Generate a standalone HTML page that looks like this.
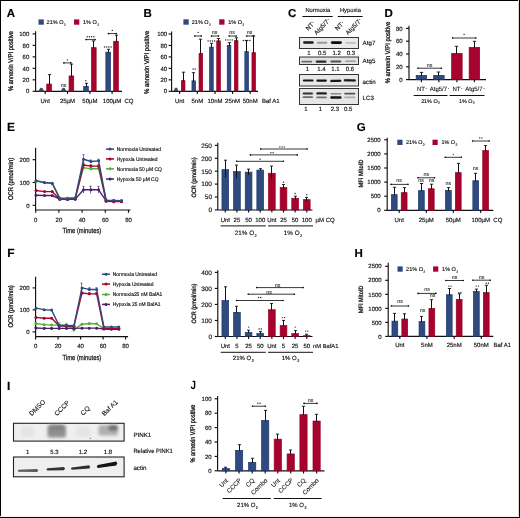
<!DOCTYPE html>
<html><head><meta charset="utf-8"><style>
html,body{margin:0;padding:0;background:#fff;}
svg{display:block;will-change:transform;text-rendering:geometricPrecision;font-family:"Liberation Sans", sans-serif;}
</style></head><body>
<svg width="520" height="518" viewBox="0 0 520 518">
<defs>
<filter id="bl" x="-30%" y="-100%" width="160%" height="300%"><feGaussianBlur stdDeviation="0.7"/></filter>
<filter id="bl2" x="-50%" y="-100%" width="200%" height="300%"><feGaussianBlur stdDeviation="1.6"/></filter>
</defs>
<rect x="0" y="0" width="520" height="518" fill="#fff"/>
<text x="6.80" y="17.00" font-size="11.5" text-anchor="start" font-weight="bold" fill="#000" stroke="#000" stroke-width="0.15">A</text>
<rect x="38.50" y="19.40" width="5.30" height="5.30" fill="#2f4a7e"/>
<text x="46.60" y="24.30" font-size="5.5" text-anchor="start" fill="#111" stroke="#111" stroke-width="0.15">21% O<tspan font-size="0.62em" dx="0.12em" dy="0.42em">2</tspan></text>
<rect x="74.00" y="19.40" width="5.30" height="5.30" fill="#a6032e"/>
<text x="83.00" y="24.30" font-size="5.5" text-anchor="start" fill="#111" stroke="#111" stroke-width="0.15">1% O<tspan font-size="0.62em" dx="0.12em" dy="0.42em">2</tspan></text>
<line x1="35.60" y1="31.20" x2="35.60" y2="91.40" stroke="#111" stroke-width="1.15"/>
<line x1="32.60" y1="91.30" x2="35.60" y2="91.30" stroke="#111" stroke-width="1.15"/>
<text x="29.30" y="93.46" font-size="6" text-anchor="end" fill="#111" stroke="#111" stroke-width="0.15">0</text>
<line x1="32.60" y1="79.82" x2="35.60" y2="79.82" stroke="#111" stroke-width="1.15"/>
<text x="29.30" y="81.98" font-size="6" text-anchor="end" fill="#111" stroke="#111" stroke-width="0.15">20</text>
<line x1="32.60" y1="68.34" x2="35.60" y2="68.34" stroke="#111" stroke-width="1.15"/>
<text x="29.30" y="70.50" font-size="6" text-anchor="end" fill="#111" stroke="#111" stroke-width="0.15">40</text>
<line x1="32.60" y1="56.86" x2="35.60" y2="56.86" stroke="#111" stroke-width="1.15"/>
<text x="29.30" y="59.02" font-size="6" text-anchor="end" fill="#111" stroke="#111" stroke-width="0.15">60</text>
<line x1="32.60" y1="45.38" x2="35.60" y2="45.38" stroke="#111" stroke-width="1.15"/>
<text x="29.30" y="47.54" font-size="6" text-anchor="end" fill="#111" stroke="#111" stroke-width="0.15">80</text>
<line x1="32.60" y1="33.90" x2="35.60" y2="33.90" stroke="#111" stroke-width="1.15"/>
<text x="29.30" y="36.06" font-size="6" text-anchor="end" fill="#111" stroke="#111" stroke-width="0.15">100</text>
<line x1="35.60" y1="91.40" x2="122.00" y2="91.40" stroke="#111" stroke-width="1.15"/>
<text x="0" y="0" font-size="6.8" text-anchor="middle" fill="#111" stroke="#111" stroke-width="0.3" transform="translate(13.30 61.00) rotate(-90) scale(0.840 1)">% annexin V/PI positive</text>
<path d="M38.60,91.40 C38.90,87.40 43.70,87.40 44.00,91.40 Z" fill="#2f4a7e"/>
<line x1="39.90" y1="88.40" x2="42.70" y2="88.40" stroke="#222" stroke-width="0.8"/>
<rect x="46.75" y="84.05" width="4.70" height="7.35" fill="#a6032e" stroke="#96001f" stroke-width="0.7"/>
<line x1="49.50" y1="74.60" x2="49.50" y2="84.70" stroke="#111" stroke-width="1.0"/>
<line x1="47.90" y1="74.60" x2="51.10" y2="74.60" stroke="#111" stroke-width="0.9"/>
<line x1="45.20" y1="91.40" x2="45.20" y2="94.00" stroke="#111" stroke-width="1.15"/>
<text x="45.20" y="102.80" font-size="6" text-anchor="middle" fill="#111" stroke="#111" stroke-width="0.15">Unt</text>
<path d="M60.90,91.40 C61.20,87.40 66.00,87.40 66.30,91.40 Z" fill="#2f4a7e"/>
<line x1="62.20" y1="88.40" x2="65.00" y2="88.40" stroke="#222" stroke-width="0.8"/>
<rect x="69.05" y="75.95" width="4.70" height="15.45" fill="#a6032e" stroke="#96001f" stroke-width="0.7"/>
<line x1="71.50" y1="64.10" x2="71.50" y2="76.60" stroke="#111" stroke-width="1.0"/>
<line x1="69.90" y1="64.10" x2="73.10" y2="64.10" stroke="#111" stroke-width="0.9"/>
<line x1="67.50" y1="91.40" x2="67.50" y2="94.00" stroke="#111" stroke-width="1.15"/>
<text x="67.50" y="102.80" font-size="6" text-anchor="middle" fill="#111" stroke="#111" stroke-width="0.15">25µM</text>
<rect x="83.65" y="86.45" width="4.70" height="4.95" fill="#2f4a7e" stroke="#1c376e" stroke-width="0.7"/>
<line x1="86.50" y1="83.30" x2="86.50" y2="87.10" stroke="#111" stroke-width="1.0"/>
<line x1="84.90" y1="83.30" x2="88.10" y2="83.30" stroke="#111" stroke-width="0.9"/>
<rect x="91.45" y="47.65" width="4.70" height="43.75" fill="#a6032e" stroke="#96001f" stroke-width="0.7"/>
<line x1="93.50" y1="40.90" x2="93.50" y2="48.30" stroke="#111" stroke-width="1.0"/>
<line x1="91.90" y1="40.90" x2="95.10" y2="40.90" stroke="#111" stroke-width="0.9"/>
<line x1="89.90" y1="91.40" x2="89.90" y2="94.00" stroke="#111" stroke-width="1.15"/>
<text x="89.90" y="102.80" font-size="6" text-anchor="middle" fill="#111" stroke="#111" stroke-width="0.15">50µM</text>
<rect x="105.85" y="52.15" width="4.70" height="39.25" fill="#2f4a7e" stroke="#1c376e" stroke-width="0.7"/>
<line x1="108.50" y1="49.30" x2="108.50" y2="52.80" stroke="#111" stroke-width="1.0"/>
<line x1="106.90" y1="49.30" x2="110.10" y2="49.30" stroke="#111" stroke-width="0.9"/>
<rect x="113.65" y="41.25" width="4.70" height="50.15" fill="#a6032e" stroke="#96001f" stroke-width="0.7"/>
<line x1="116.50" y1="35.20" x2="116.50" y2="41.90" stroke="#111" stroke-width="1.0"/>
<line x1="114.90" y1="35.20" x2="118.10" y2="35.20" stroke="#111" stroke-width="0.9"/>
<line x1="112.10" y1="91.40" x2="112.10" y2="94.00" stroke="#111" stroke-width="1.15"/>
<text x="112.10" y="102.80" font-size="6" text-anchor="middle" fill="#111" stroke="#111" stroke-width="0.15">100µM</text>
<text x="124.40" y="102.80" font-size="6" text-anchor="start" fill="#111" stroke="#111" stroke-width="0.15">CQ</text>
<text x="63.60" y="87.42" font-size="5.4" text-anchor="middle" fill="#111" stroke="#111" stroke-width="0.05">ns</text>
<circle cx="85.80" cy="80.80" r="0.72" fill="#2a2a2a"/>
<circle cx="104.50" cy="47.00" r="0.72" fill="#2a2a2a"/>
<circle cx="106.70" cy="47.00" r="0.72" fill="#2a2a2a"/>
<circle cx="108.90" cy="47.00" r="0.72" fill="#2a2a2a"/>
<circle cx="111.10" cy="47.00" r="0.72" fill="#2a2a2a"/>
<line x1="63.30" y1="62.90" x2="71.40" y2="62.90" stroke="#222" stroke-width="0.9"/>
<circle cx="63.90" cy="62.90" r="0.8" fill="#111"/>
<circle cx="70.80" cy="62.90" r="0.8" fill="#111"/>
<circle cx="67.40" cy="59.90" r="0.72" fill="#2a2a2a"/>
<line x1="85.50" y1="39.60" x2="95.60" y2="39.60" stroke="#222" stroke-width="0.9"/>
<circle cx="86.10" cy="39.60" r="0.8" fill="#111"/>
<circle cx="95.00" cy="39.60" r="0.8" fill="#111"/>
<circle cx="87.20" cy="36.70" r="0.72" fill="#2a2a2a"/>
<circle cx="89.40" cy="36.70" r="0.72" fill="#2a2a2a"/>
<circle cx="91.60" cy="36.70" r="0.72" fill="#2a2a2a"/>
<circle cx="93.80" cy="36.70" r="0.72" fill="#2a2a2a"/>
<line x1="107.80" y1="33.60" x2="116.90" y2="33.60" stroke="#222" stroke-width="0.9"/>
<circle cx="108.40" cy="33.60" r="0.8" fill="#111"/>
<circle cx="116.30" cy="33.60" r="0.8" fill="#111"/>
<circle cx="112.30" cy="30.40" r="0.72" fill="#2a2a2a"/>
<text x="143.40" y="16.60" font-size="11.5" text-anchor="start" font-weight="bold" fill="#000" stroke="#000" stroke-width="0.15">B</text>
<rect x="183.40" y="19.30" width="5.30" height="5.40" fill="#2f4a7e"/>
<text x="191.80" y="24.30" font-size="5.5" text-anchor="start" fill="#111" stroke="#111" stroke-width="0.15">21% O<tspan font-size="0.62em" dx="0.12em" dy="0.42em">2</tspan></text>
<rect x="219.20" y="19.30" width="5.30" height="5.40" fill="#a6032e"/>
<text x="228.20" y="24.30" font-size="5.5" text-anchor="start" fill="#111" stroke="#111" stroke-width="0.15">1% O<tspan font-size="0.62em" dx="0.12em" dy="0.42em">2</tspan></text>
<line x1="171.60" y1="31.40" x2="171.60" y2="91.40" stroke="#111" stroke-width="1.15"/>
<line x1="168.60" y1="91.30" x2="171.60" y2="91.30" stroke="#111" stroke-width="1.15"/>
<text x="167.20" y="93.46" font-size="6" text-anchor="end" fill="#111" stroke="#111" stroke-width="0.15">0</text>
<line x1="168.60" y1="79.84" x2="171.60" y2="79.84" stroke="#111" stroke-width="1.15"/>
<text x="167.20" y="82.00" font-size="6" text-anchor="end" fill="#111" stroke="#111" stroke-width="0.15">20</text>
<line x1="168.60" y1="68.38" x2="171.60" y2="68.38" stroke="#111" stroke-width="1.15"/>
<text x="167.20" y="70.54" font-size="6" text-anchor="end" fill="#111" stroke="#111" stroke-width="0.15">40</text>
<line x1="168.60" y1="56.92" x2="171.60" y2="56.92" stroke="#111" stroke-width="1.15"/>
<text x="167.20" y="59.08" font-size="6" text-anchor="end" fill="#111" stroke="#111" stroke-width="0.15">60</text>
<line x1="168.60" y1="45.46" x2="171.60" y2="45.46" stroke="#111" stroke-width="1.15"/>
<text x="167.20" y="47.62" font-size="6" text-anchor="end" fill="#111" stroke="#111" stroke-width="0.15">80</text>
<line x1="168.60" y1="34.00" x2="171.60" y2="34.00" stroke="#111" stroke-width="1.15"/>
<text x="167.20" y="36.16" font-size="6" text-anchor="end" fill="#111" stroke="#111" stroke-width="0.15">100</text>
<line x1="171.60" y1="91.30" x2="258.00" y2="91.30" stroke="#111" stroke-width="1.15"/>
<text x="0" y="0" font-size="6.8" text-anchor="middle" fill="#111" stroke="#111" stroke-width="0.3" transform="translate(149.40 62.40) rotate(-90) scale(0.886 1)">% annexin V/PI positive</text>
<path d="M173.90,91.30 C174.20,87.30 177.90,87.30 178.20,91.30 Z" fill="#2f4a7e"/>
<line x1="174.65" y1="88.30" x2="177.45" y2="88.30" stroke="#222" stroke-width="0.8"/>
<rect x="181.35" y="80.65" width="3.60" height="10.65" fill="#a6032e" stroke="#96001f" stroke-width="0.7"/>
<line x1="183.50" y1="72.20" x2="183.50" y2="81.30" stroke="#111" stroke-width="1.0"/>
<line x1="181.90" y1="72.20" x2="185.10" y2="72.20" stroke="#111" stroke-width="0.9"/>
<line x1="179.60" y1="91.30" x2="179.60" y2="94.00" stroke="#111" stroke-width="1.15"/>
<text x="179.60" y="102.70" font-size="6" text-anchor="middle" fill="#111" stroke="#111" stroke-width="0.15">Unt</text>
<rect x="191.95" y="80.85" width="3.60" height="10.45" fill="#2f4a7e" stroke="#1c376e" stroke-width="0.7"/>
<line x1="193.50" y1="72.70" x2="193.50" y2="81.50" stroke="#111" stroke-width="1.0"/>
<line x1="191.90" y1="72.70" x2="195.10" y2="72.70" stroke="#111" stroke-width="0.9"/>
<rect x="199.05" y="53.45" width="3.60" height="37.85" fill="#a6032e" stroke="#96001f" stroke-width="0.7"/>
<line x1="200.50" y1="39.20" x2="200.50" y2="54.10" stroke="#111" stroke-width="1.0"/>
<line x1="198.90" y1="39.20" x2="202.10" y2="39.20" stroke="#111" stroke-width="0.9"/>
<line x1="197.30" y1="91.30" x2="197.30" y2="94.00" stroke="#111" stroke-width="1.15"/>
<text x="197.30" y="102.70" font-size="6" text-anchor="middle" fill="#111" stroke="#111" stroke-width="0.15">5nM</text>
<rect x="209.65" y="47.15" width="3.60" height="44.15" fill="#2f4a7e" stroke="#1c376e" stroke-width="0.7"/>
<line x1="211.50" y1="43.30" x2="211.50" y2="47.80" stroke="#111" stroke-width="1.0"/>
<line x1="209.90" y1="43.30" x2="213.10" y2="43.30" stroke="#111" stroke-width="0.9"/>
<rect x="216.75" y="40.85" width="3.60" height="50.45" fill="#a6032e" stroke="#96001f" stroke-width="0.7"/>
<line x1="218.50" y1="38.50" x2="218.50" y2="41.50" stroke="#111" stroke-width="1.0"/>
<line x1="216.90" y1="38.50" x2="220.10" y2="38.50" stroke="#111" stroke-width="0.9"/>
<line x1="215.00" y1="91.30" x2="215.00" y2="94.00" stroke="#111" stroke-width="1.15"/>
<text x="215.00" y="102.70" font-size="6" text-anchor="middle" fill="#111" stroke="#111" stroke-width="0.15">10nM</text>
<rect x="227.25" y="45.35" width="3.60" height="45.95" fill="#2f4a7e" stroke="#1c376e" stroke-width="0.7"/>
<line x1="229.50" y1="42.60" x2="229.50" y2="46.00" stroke="#111" stroke-width="1.0"/>
<line x1="227.90" y1="42.60" x2="231.10" y2="42.60" stroke="#111" stroke-width="0.9"/>
<rect x="234.35" y="40.65" width="3.60" height="50.65" fill="#a6032e" stroke="#96001f" stroke-width="0.7"/>
<line x1="236.50" y1="37.80" x2="236.50" y2="41.30" stroke="#111" stroke-width="1.0"/>
<line x1="234.90" y1="37.80" x2="238.10" y2="37.80" stroke="#111" stroke-width="0.9"/>
<line x1="232.60" y1="91.30" x2="232.60" y2="94.00" stroke="#111" stroke-width="1.15"/>
<text x="232.60" y="102.70" font-size="6" text-anchor="middle" fill="#111" stroke="#111" stroke-width="0.15">25nM</text>
<rect x="244.85" y="51.65" width="3.60" height="39.65" fill="#2f4a7e" stroke="#1c376e" stroke-width="0.7"/>
<line x1="246.50" y1="40.50" x2="246.50" y2="52.30" stroke="#111" stroke-width="1.0"/>
<line x1="244.90" y1="40.50" x2="248.10" y2="40.50" stroke="#111" stroke-width="0.9"/>
<rect x="251.95" y="52.65" width="3.60" height="38.65" fill="#a6032e" stroke="#96001f" stroke-width="0.7"/>
<line x1="253.50" y1="36.00" x2="253.50" y2="53.30" stroke="#111" stroke-width="1.0"/>
<line x1="251.90" y1="36.00" x2="255.10" y2="36.00" stroke="#111" stroke-width="0.9"/>
<line x1="250.20" y1="91.30" x2="250.20" y2="94.00" stroke="#111" stroke-width="1.15"/>
<text x="250.20" y="102.70" font-size="6" text-anchor="middle" fill="#111" stroke="#111" stroke-width="0.15">50nM</text>
<text x="262.00" y="102.70" font-size="6" text-anchor="start" fill="#111" stroke="#111" stroke-width="0.15">Baf A1</text>
<circle cx="193.10" cy="69.00" r="0.72" fill="#2a2a2a"/>
<circle cx="195.30" cy="69.00" r="0.72" fill="#2a2a2a"/>
<circle cx="208.10" cy="41.00" r="0.72" fill="#2a2a2a"/>
<circle cx="210.30" cy="41.00" r="0.72" fill="#2a2a2a"/>
<circle cx="212.50" cy="41.00" r="0.72" fill="#2a2a2a"/>
<circle cx="214.70" cy="41.00" r="0.72" fill="#2a2a2a"/>
<circle cx="225.70" cy="39.90" r="0.72" fill="#2a2a2a"/>
<circle cx="227.90" cy="39.90" r="0.72" fill="#2a2a2a"/>
<circle cx="230.10" cy="39.90" r="0.72" fill="#2a2a2a"/>
<circle cx="232.30" cy="39.90" r="0.72" fill="#2a2a2a"/>
<circle cx="243.30" cy="40.50" r="0.72" fill="#2a2a2a"/>
<circle cx="245.50" cy="40.50" r="0.72" fill="#2a2a2a"/>
<circle cx="247.70" cy="40.50" r="0.72" fill="#2a2a2a"/>
<circle cx="249.90" cy="40.50" r="0.72" fill="#2a2a2a"/>
<line x1="194.20" y1="36.00" x2="201.90" y2="36.00" stroke="#222" stroke-width="0.9"/>
<circle cx="194.80" cy="36.00" r="0.8" fill="#111"/>
<circle cx="201.30" cy="36.00" r="0.8" fill="#111"/>
<circle cx="198.20" cy="32.40" r="0.72" fill="#2a2a2a"/>
<line x1="210.90" y1="36.00" x2="219.10" y2="36.00" stroke="#222" stroke-width="0.9"/>
<circle cx="211.50" cy="36.00" r="0.8" fill="#111"/>
<circle cx="218.50" cy="36.00" r="0.8" fill="#111"/>
<text x="214.50" y="34.22" font-size="5.4" text-anchor="middle" fill="#111" stroke="#111" stroke-width="0.05">ns</text>
<line x1="228.50" y1="36.00" x2="236.70" y2="36.00" stroke="#222" stroke-width="0.9"/>
<circle cx="229.10" cy="36.00" r="0.8" fill="#111"/>
<circle cx="236.10" cy="36.00" r="0.8" fill="#111"/>
<text x="232.10" y="34.22" font-size="5.4" text-anchor="middle" fill="#111" stroke="#111" stroke-width="0.05">ns</text>
<line x1="246.10" y1="36.00" x2="254.30" y2="36.00" stroke="#222" stroke-width="0.9"/>
<circle cx="246.70" cy="36.00" r="0.8" fill="#111"/>
<circle cx="253.70" cy="36.00" r="0.8" fill="#111"/>
<text x="249.70" y="34.22" font-size="5.4" text-anchor="middle" fill="#111" stroke="#111" stroke-width="0.05">ns</text>
<text x="287.90" y="17.30" font-size="11.5" text-anchor="start" font-weight="bold" fill="#000" stroke="#000" stroke-width="0.15">C</text>
<text x="317.80" y="12.20" font-size="5.8" text-anchor="middle" fill="#111" stroke="#111" stroke-width="0.15">Normoxia</text>
<line x1="302.40" y1="16.50" x2="332.70" y2="16.50" stroke="#111" stroke-width="1.0"/>
<text x="350.40" y="12.20" font-size="5.8" text-anchor="middle" fill="#111" stroke="#111" stroke-width="0.15">Hypoxia</text>
<line x1="337.80" y1="16.50" x2="362.70" y2="16.50" stroke="#111" stroke-width="1.0"/>
<text x="0" y="0" font-size="6.3" text-anchor="middle" fill="#111" stroke="#111" stroke-width="0.12" transform="translate(311.90 27.40) rotate(-45)">NT<tspan font-size="0.75em" dx="0.1em" dy="-0.35em">-</tspan></text>
<text x="0" y="0" font-size="6.3" text-anchor="middle" fill="#111" stroke="#111" stroke-width="0.12" transform="translate(323.60 28.00) rotate(-45)">Atg5/7<tspan font-size="0.75em" dx="0.1em" dy="-0.35em">-</tspan></text>
<text x="0" y="0" font-size="6.3" text-anchor="middle" fill="#111" stroke="#111" stroke-width="0.12" transform="translate(341.30 27.40) rotate(-45)">NT<tspan font-size="0.75em" dx="0.1em" dy="-0.35em">-</tspan></text>
<text x="0" y="0" font-size="6.3" text-anchor="middle" fill="#111" stroke="#111" stroke-width="0.12" transform="translate(355.20 28.00) rotate(-45)">Atg5/7<tspan font-size="0.75em" dx="0.1em" dy="-0.35em">-</tspan></text>
<rect x="299.50" y="37.50" width="59.00" height="11.00" fill="#e9e9e9" stroke="#333" stroke-width="1.0"/>
<rect x="303.10" y="41.35" width="10.60" height="2.50" rx="1.25" fill="#1e1e1e" opacity="1.0" filter="url(#bl)"/>
<rect x="316.90" y="41.80" width="10.40" height="2.00" rx="1.00" fill="#9a9a9a" opacity="1.0" filter="url(#bl)"/>
<rect x="330.80" y="41.15" width="11.20" height="2.90" rx="1.45" fill="#111" opacity="1.0" filter="url(#bl)"/>
<rect x="345.30" y="41.90" width="10.60" height="1.80" rx="0.90" fill="#bdbdbd" opacity="1.0" filter="url(#bl)"/>
<text x="308.80" y="54.90" font-size="6" text-anchor="middle" fill="#111" stroke="#111" stroke-width="0.15">1</text>
<text x="322.10" y="54.90" font-size="6" text-anchor="middle" fill="#111" stroke="#111" stroke-width="0.15">0.5</text>
<text x="336.60" y="54.90" font-size="6" text-anchor="middle" fill="#111" stroke="#111" stroke-width="0.15">1.2</text>
<text x="350.80" y="54.90" font-size="6" text-anchor="middle" fill="#111" stroke="#111" stroke-width="0.15">0.3</text>
<rect x="299.50" y="57.00" width="59.00" height="7.50" fill="#e2e2e2" stroke="#333" stroke-width="1.0"/>
<rect x="301.40" y="60.80" width="10.80" height="1.80" rx="0.90" fill="#6a6a6a" opacity="1.0" filter="url(#bl)"/>
<rect x="315.70" y="60.60" width="10.80" height="2.20" rx="1.10" fill="#2a2a2a" opacity="1.0" filter="url(#bl)"/>
<rect x="330.30" y="60.50" width="11.00" height="2.00" rx="1.00" fill="#505050" opacity="1.0" filter="url(#bl)"/>
<rect x="345.20" y="60.50" width="10.80" height="1.60" rx="0.80" fill="#9a9a9a" opacity="1.0" filter="url(#bl)"/>
<text x="307.40" y="71.30" font-size="6" text-anchor="middle" fill="#111" stroke="#111" stroke-width="0.15">1</text>
<text x="321.30" y="71.30" font-size="6" text-anchor="middle" fill="#111" stroke="#111" stroke-width="0.15">1.4</text>
<text x="335.50" y="71.30" font-size="6" text-anchor="middle" fill="#111" stroke="#111" stroke-width="0.15">1.1</text>
<text x="350.00" y="71.30" font-size="6" text-anchor="middle" fill="#111" stroke="#111" stroke-width="0.15">0.6</text>
<rect x="299.50" y="74.50" width="59.00" height="11.50" fill="#e8e8e8" stroke="#333" stroke-width="1.0"/>
<rect x="302.80" y="79.40" width="10.80" height="2.20" rx="1.10" fill="#151515" opacity="1.0" filter="url(#bl)"/>
<rect x="316.30" y="79.50" width="10.60" height="2.20" rx="1.10" fill="#151515" opacity="1.0" filter="url(#bl)"/>
<rect x="330.20" y="79.80" width="11.20" height="2.20" rx="1.10" fill="#151515" opacity="1.0" filter="url(#bl)" transform="rotate(-1.2 335.8 80.9)"/>
<rect x="343.70" y="79.25" width="12.20" height="2.30" rx="1.15" fill="#151515" opacity="1.0" filter="url(#bl)" transform="rotate(1.5 349.8 80.4)"/>
<rect x="299.50" y="88.50" width="59.00" height="16.00" fill="#e6e6e6" stroke="#333" stroke-width="1.0"/>
<rect x="302.60" y="92.60" width="10.40" height="2.00" rx="1.00" fill="#333" opacity="1.0" filter="url(#bl)"/>
<rect x="302.60" y="96.30" width="10.40" height="1.80" rx="0.90" fill="#6a6a6a" opacity="1.0" filter="url(#bl)"/>
<rect x="316.30" y="92.20" width="10.60" height="2.40" rx="1.20" fill="#222" opacity="1.0" filter="url(#bl)"/>
<rect x="316.30" y="96.50" width="10.60" height="1.80" rx="0.90" fill="#707070" opacity="1.0" filter="url(#bl)"/>
<rect x="330.50" y="93.00" width="10.80" height="1.60" rx="0.80" fill="#8a8a8a" opacity="1.0" filter="url(#bl)"/>
<rect x="330.20" y="96.20" width="11.40" height="2.60" rx="1.30" fill="#141414" opacity="1.0" filter="url(#bl)"/>
<rect x="344.20" y="92.70" width="11.20" height="1.80" rx="0.90" fill="#555" opacity="1.0" filter="url(#bl)"/>
<rect x="344.20" y="96.60" width="11.20" height="1.60" rx="0.80" fill="#aaaaaa" opacity="1.0" filter="url(#bl)"/>
<text x="306.00" y="110.90" font-size="6" text-anchor="middle" fill="#111" stroke="#111" stroke-width="0.15">1</text>
<text x="320.40" y="110.90" font-size="6" text-anchor="middle" fill="#111" stroke="#111" stroke-width="0.15">1</text>
<text x="334.80" y="110.90" font-size="6" text-anchor="middle" fill="#111" stroke="#111" stroke-width="0.15">2.3</text>
<text x="348.20" y="110.90" font-size="6" text-anchor="middle" fill="#111" stroke="#111" stroke-width="0.15">0.5</text>
<text x="362.60" y="44.90" font-size="6.2" text-anchor="start" fill="#111" stroke="#111" stroke-width="0.15">Atg7</text>
<text x="362.60" y="63.30" font-size="6.2" text-anchor="start" fill="#111" stroke="#111" stroke-width="0.15">Atg5</text>
<text x="362.60" y="84.20" font-size="6.2" text-anchor="start" fill="#111" stroke="#111" stroke-width="0.15">actin</text>
<text x="362.60" y="99.90" font-size="6.2" text-anchor="start" fill="#111" stroke="#111" stroke-width="0.15">LC3</text>
<text x="384.50" y="16.50" font-size="11.5" text-anchor="start" font-weight="bold" fill="#000" stroke="#000" stroke-width="0.15">D</text>
<text x="0" y="0" font-size="6.8" text-anchor="middle" fill="#111" stroke="#111" stroke-width="0.3" transform="translate(389.60 52.50) rotate(-90) scale(0.860 1)">% annexin V/PI positive</text>
<line x1="409.00" y1="25.70" x2="409.00" y2="79.60" stroke="#111" stroke-width="1.15"/>
<line x1="406.00" y1="79.60" x2="409.00" y2="79.60" stroke="#111" stroke-width="1.15"/>
<text x="402.60" y="81.76" font-size="6" text-anchor="end" fill="#111" stroke="#111" stroke-width="0.15">0</text>
<line x1="406.00" y1="66.80" x2="409.00" y2="66.80" stroke="#111" stroke-width="1.15"/>
<text x="402.60" y="68.96" font-size="6" text-anchor="end" fill="#111" stroke="#111" stroke-width="0.15">20</text>
<line x1="406.00" y1="54.00" x2="409.00" y2="54.00" stroke="#111" stroke-width="1.15"/>
<text x="402.60" y="56.16" font-size="6" text-anchor="end" fill="#111" stroke="#111" stroke-width="0.15">40</text>
<line x1="406.00" y1="41.20" x2="409.00" y2="41.20" stroke="#111" stroke-width="1.15"/>
<text x="402.60" y="43.36" font-size="6" text-anchor="end" fill="#111" stroke="#111" stroke-width="0.15">60</text>
<line x1="406.00" y1="28.40" x2="409.00" y2="28.40" stroke="#111" stroke-width="1.15"/>
<text x="402.60" y="30.56" font-size="6" text-anchor="end" fill="#111" stroke="#111" stroke-width="0.15">80</text>
<line x1="409.00" y1="79.60" x2="486.00" y2="79.60" stroke="#111" stroke-width="1.15"/>
<rect x="416.15" y="75.35" width="10.50" height="4.25" fill="#2f4a7e" stroke="#1c376e" stroke-width="0.7"/>
<line x1="421.50" y1="72.40" x2="421.50" y2="76.00" stroke="#111" stroke-width="1.0"/>
<line x1="419.80" y1="72.40" x2="423.20" y2="72.40" stroke="#111" stroke-width="0.9"/>
<line x1="421.40" y1="79.60" x2="421.40" y2="82.20" stroke="#111" stroke-width="1.15"/>
<text x="422.00" y="90.60" font-size="6" text-anchor="middle" fill="#111" stroke="#111" stroke-width="0.1">NT<tspan font-size="0.75em" dx="0.15em" dy="-0.2em">-</tspan></text>
<rect x="433.65" y="75.35" width="10.50" height="4.25" fill="#2f4a7e" stroke="#1c376e" stroke-width="0.7"/>
<line x1="438.50" y1="72.00" x2="438.50" y2="76.00" stroke="#111" stroke-width="1.0"/>
<line x1="436.80" y1="72.00" x2="440.20" y2="72.00" stroke="#111" stroke-width="0.9"/>
<line x1="438.90" y1="79.60" x2="438.90" y2="82.20" stroke="#111" stroke-width="1.15"/>
<text x="439.50" y="90.60" font-size="6" text-anchor="middle" fill="#111" stroke="#111" stroke-width="0.1">Atg5/7<tspan font-size="0.75em" dx="0.15em" dy="-0.2em">-</tspan></text>
<rect x="451.65" y="53.35" width="10.50" height="26.25" fill="#a6032e" stroke="#96001f" stroke-width="0.7"/>
<line x1="456.50" y1="46.30" x2="456.50" y2="54.00" stroke="#111" stroke-width="1.0"/>
<line x1="454.80" y1="46.30" x2="458.20" y2="46.30" stroke="#111" stroke-width="0.9"/>
<line x1="456.90" y1="79.60" x2="456.90" y2="82.20" stroke="#111" stroke-width="1.15"/>
<text x="457.50" y="90.60" font-size="6" text-anchor="middle" fill="#111" stroke="#111" stroke-width="0.1">NT<tspan font-size="0.75em" dx="0.15em" dy="-0.2em">-</tspan></text>
<rect x="469.15" y="47.35" width="10.50" height="32.25" fill="#a6032e" stroke="#96001f" stroke-width="0.7"/>
<line x1="474.50" y1="41.30" x2="474.50" y2="48.00" stroke="#111" stroke-width="1.0"/>
<line x1="472.80" y1="41.30" x2="476.20" y2="41.30" stroke="#111" stroke-width="0.9"/>
<line x1="474.40" y1="79.60" x2="474.40" y2="82.20" stroke="#111" stroke-width="1.15"/>
<text x="475.00" y="90.60" font-size="6" text-anchor="middle" fill="#111" stroke="#111" stroke-width="0.1">Atg5/7<tspan font-size="0.75em" dx="0.15em" dy="-0.2em">-</tspan></text>
<line x1="417.50" y1="68.20" x2="442.00" y2="68.20" stroke="#222" stroke-width="0.9"/>
<circle cx="418.10" cy="68.20" r="0.8" fill="#111"/>
<circle cx="441.40" cy="68.20" r="0.8" fill="#111"/>
<text x="429.70" y="67.02" font-size="5.4" text-anchor="middle" fill="#111" stroke="#111" stroke-width="0.05">ns</text>
<line x1="452.00" y1="38.00" x2="476.30" y2="38.00" stroke="#222" stroke-width="0.9"/>
<circle cx="452.60" cy="38.00" r="0.8" fill="#111"/>
<circle cx="475.70" cy="38.00" r="0.8" fill="#111"/>
<circle cx="464.10" cy="34.40" r="0.72" fill="#2a2a2a"/>
<line x1="413.70" y1="95.50" x2="447.50" y2="95.50" stroke="#111" stroke-width="1.0"/>
<line x1="449.50" y1="95.50" x2="484.50" y2="95.50" stroke="#111" stroke-width="1.0"/>
<text x="430.50" y="102.60" font-size="5.4" text-anchor="middle" fill="#111" stroke="#111" stroke-width="0.15">21% O<tspan font-size="0.62em" dx="0.12em" dy="0.42em">2</tspan></text>
<text x="466.80" y="102.60" font-size="5.4" text-anchor="middle" fill="#111" stroke="#111" stroke-width="0.15">1% O<tspan font-size="0.62em" dx="0.12em" dy="0.42em">2</tspan></text>
<text x="7.00" y="131.00" font-size="12" text-anchor="start" font-weight="bold" fill="#000" stroke="#000" stroke-width="0.15">E</text>
<line x1="35.60" y1="147.70" x2="35.60" y2="210.00" stroke="#111" stroke-width="1.15"/>
<line x1="32.60" y1="205.30" x2="35.60" y2="205.30" stroke="#111" stroke-width="1.15"/>
<text x="29.60" y="207.50" font-size="6" text-anchor="end" fill="#111" stroke="#111" stroke-width="0.15">0</text>
<line x1="32.60" y1="182.50" x2="35.60" y2="182.50" stroke="#111" stroke-width="1.15"/>
<text x="29.60" y="184.70" font-size="6" text-anchor="end" fill="#111" stroke="#111" stroke-width="0.15">100</text>
<line x1="32.60" y1="159.70" x2="35.60" y2="159.70" stroke="#111" stroke-width="1.15"/>
<text x="29.60" y="161.90" font-size="6" text-anchor="end" fill="#111" stroke="#111" stroke-width="0.15">200</text>
<line x1="35.60" y1="210.00" x2="130.50" y2="210.00" stroke="#111" stroke-width="1.15"/>
<line x1="35.70" y1="210.00" x2="35.70" y2="212.80" stroke="#111" stroke-width="1.15"/>
<text x="35.70" y="221.80" font-size="6" text-anchor="middle" fill="#111" stroke="#111" stroke-width="0.15">0</text>
<line x1="58.90" y1="210.00" x2="58.90" y2="212.80" stroke="#111" stroke-width="1.15"/>
<text x="58.90" y="221.80" font-size="6" text-anchor="middle" fill="#111" stroke="#111" stroke-width="0.15">20</text>
<line x1="82.10" y1="210.00" x2="82.10" y2="212.80" stroke="#111" stroke-width="1.15"/>
<text x="82.10" y="221.80" font-size="6" text-anchor="middle" fill="#111" stroke="#111" stroke-width="0.15">40</text>
<line x1="105.30" y1="210.00" x2="105.30" y2="212.80" stroke="#111" stroke-width="1.15"/>
<text x="105.30" y="221.80" font-size="6" text-anchor="middle" fill="#111" stroke="#111" stroke-width="0.15">60</text>
<line x1="128.50" y1="210.00" x2="128.50" y2="212.80" stroke="#111" stroke-width="1.15"/>
<text x="128.50" y="221.80" font-size="6" text-anchor="middle" fill="#111" stroke="#111" stroke-width="0.15">80</text>
<text x="0" y="0" font-size="7.3" text-anchor="middle" fill="#111" stroke="#111" stroke-width="0.25" transform="translate(81.90 232.90) scale(0.800 1)">Time (minutes)</text>
<text x="0" y="0" font-size="6.8" text-anchor="middle" fill="#111" stroke="#111" stroke-width="0.3" transform="translate(13.10 179.00) rotate(-90) scale(0.860 1)">OCR (pmol/min)</text>
<polyline points="36.06,181.13 44.54,182.73 52.21,183.41 59.89,198.00 67.55,198.00 75.23,197.55 83.52,167.68 90.99,168.82 98.66,168.59 106.14,200.51 113.80,200.74 121.48,200.97" fill="none" stroke="#5aae3a" stroke-width="1.4" stroke-linejoin="round"/>
<circle cx="36.06" cy="181.13" r="1.5" fill="#5aae3a"/>
<circle cx="44.54" cy="182.73" r="1.5" fill="#5aae3a"/>
<circle cx="52.21" cy="183.41" r="1.5" fill="#5aae3a"/>
<circle cx="59.89" cy="198.00" r="1.5" fill="#5aae3a"/>
<circle cx="67.55" cy="198.00" r="1.5" fill="#5aae3a"/>
<circle cx="75.23" cy="197.55" r="1.5" fill="#5aae3a"/>
<line x1="83.50" y1="165.86" x2="83.50" y2="169.50" stroke="#5aae3a" stroke-width="0.7"/>
<line x1="82.40" y1="165.86" x2="84.60" y2="165.86" stroke="#5aae3a" stroke-width="0.7"/>
<circle cx="83.52" cy="167.68" r="1.5" fill="#5aae3a"/>
<line x1="90.50" y1="167.68" x2="90.50" y2="169.96" stroke="#5aae3a" stroke-width="0.7"/>
<line x1="89.40" y1="167.68" x2="91.60" y2="167.68" stroke="#5aae3a" stroke-width="0.7"/>
<circle cx="90.99" cy="168.82" r="1.5" fill="#5aae3a"/>
<line x1="98.50" y1="167.45" x2="98.50" y2="169.73" stroke="#5aae3a" stroke-width="0.7"/>
<line x1="97.40" y1="167.45" x2="99.60" y2="167.45" stroke="#5aae3a" stroke-width="0.7"/>
<circle cx="98.66" cy="168.59" r="1.5" fill="#5aae3a"/>
<circle cx="106.14" cy="200.51" r="1.5" fill="#5aae3a"/>
<circle cx="113.80" cy="200.74" r="1.5" fill="#5aae3a"/>
<circle cx="121.48" cy="200.97" r="1.5" fill="#5aae3a"/>
<polyline points="36.06,195.27 44.54,195.50 52.21,195.50 59.89,199.14 67.55,199.60 75.23,199.14 83.52,189.80 90.99,189.80 98.66,189.80 106.14,200.97 113.80,201.42 121.48,201.42" fill="none" stroke="#4b1f6e" stroke-width="1.4" stroke-linejoin="round"/>
<circle cx="36.06" cy="195.27" r="1.5" fill="#4b1f6e"/>
<circle cx="44.54" cy="195.50" r="1.5" fill="#4b1f6e"/>
<circle cx="52.21" cy="195.50" r="1.5" fill="#4b1f6e"/>
<circle cx="59.89" cy="199.14" r="1.5" fill="#4b1f6e"/>
<circle cx="67.55" cy="199.60" r="1.5" fill="#4b1f6e"/>
<circle cx="75.23" cy="199.14" r="1.5" fill="#4b1f6e"/>
<line x1="83.50" y1="186.38" x2="83.50" y2="193.22" stroke="#4b1f6e" stroke-width="0.7"/>
<line x1="82.40" y1="186.38" x2="84.60" y2="186.38" stroke="#4b1f6e" stroke-width="0.7"/>
<circle cx="83.52" cy="189.80" r="1.5" fill="#4b1f6e"/>
<line x1="90.50" y1="186.15" x2="90.50" y2="193.44" stroke="#4b1f6e" stroke-width="0.7"/>
<line x1="89.40" y1="186.15" x2="91.60" y2="186.15" stroke="#4b1f6e" stroke-width="0.7"/>
<circle cx="90.99" cy="189.80" r="1.5" fill="#4b1f6e"/>
<line x1="98.50" y1="186.38" x2="98.50" y2="193.22" stroke="#4b1f6e" stroke-width="0.7"/>
<line x1="97.40" y1="186.38" x2="99.60" y2="186.38" stroke="#4b1f6e" stroke-width="0.7"/>
<circle cx="98.66" cy="189.80" r="1.5" fill="#4b1f6e"/>
<circle cx="106.14" cy="200.97" r="1.5" fill="#4b1f6e"/>
<line x1="113.50" y1="199.83" x2="113.50" y2="203.02" stroke="#4b1f6e" stroke-width="0.7"/>
<line x1="112.40" y1="199.83" x2="114.60" y2="199.83" stroke="#4b1f6e" stroke-width="0.7"/>
<circle cx="113.80" cy="201.42" r="1.5" fill="#4b1f6e"/>
<line x1="121.50" y1="199.83" x2="121.50" y2="203.02" stroke="#4b1f6e" stroke-width="0.7"/>
<line x1="120.40" y1="199.83" x2="122.60" y2="199.83" stroke="#4b1f6e" stroke-width="0.7"/>
<circle cx="121.48" cy="201.42" r="1.5" fill="#4b1f6e"/>
<polyline points="36.06,190.48 44.54,191.62 52.21,191.62 59.89,199.14 67.55,199.14 75.23,198.92 83.52,164.94 90.99,166.08 98.66,166.08 106.14,201.20 113.80,201.65 121.48,201.65" fill="none" stroke="#a6032e" stroke-width="1.4" stroke-linejoin="round"/>
<circle cx="36.06" cy="190.48" r="1.5" fill="#a6032e"/>
<circle cx="44.54" cy="191.62" r="1.5" fill="#a6032e"/>
<circle cx="52.21" cy="191.62" r="1.5" fill="#a6032e"/>
<circle cx="59.89" cy="199.14" r="1.5" fill="#a6032e"/>
<circle cx="67.55" cy="199.14" r="1.5" fill="#a6032e"/>
<circle cx="75.23" cy="198.92" r="1.5" fill="#a6032e"/>
<line x1="83.50" y1="163.12" x2="83.50" y2="166.77" stroke="#a6032e" stroke-width="0.7"/>
<line x1="82.40" y1="163.12" x2="84.60" y2="163.12" stroke="#a6032e" stroke-width="0.7"/>
<circle cx="83.52" cy="164.94" r="1.5" fill="#a6032e"/>
<line x1="90.50" y1="164.72" x2="90.50" y2="167.45" stroke="#a6032e" stroke-width="0.7"/>
<line x1="89.40" y1="164.72" x2="91.60" y2="164.72" stroke="#a6032e" stroke-width="0.7"/>
<circle cx="90.99" cy="166.08" r="1.5" fill="#a6032e"/>
<line x1="98.50" y1="164.72" x2="98.50" y2="167.45" stroke="#a6032e" stroke-width="0.7"/>
<line x1="97.40" y1="164.72" x2="99.60" y2="164.72" stroke="#a6032e" stroke-width="0.7"/>
<circle cx="98.66" cy="166.08" r="1.5" fill="#a6032e"/>
<circle cx="106.14" cy="201.20" r="1.5" fill="#a6032e"/>
<line x1="113.50" y1="200.51" x2="113.50" y2="202.79" stroke="#a6032e" stroke-width="0.7"/>
<line x1="112.40" y1="200.51" x2="114.60" y2="200.51" stroke="#a6032e" stroke-width="0.7"/>
<circle cx="113.80" cy="201.65" r="1.5" fill="#a6032e"/>
<line x1="121.50" y1="200.51" x2="121.50" y2="202.79" stroke="#a6032e" stroke-width="0.7"/>
<line x1="120.40" y1="200.51" x2="122.60" y2="200.51" stroke="#a6032e" stroke-width="0.7"/>
<circle cx="121.48" cy="201.65" r="1.5" fill="#a6032e"/>
<polyline points="36.06,180.68 44.54,182.50 52.21,183.18 59.89,198.92 67.55,198.69 75.23,198.23 83.52,159.24 90.99,161.52 98.66,160.84 106.14,200.28 113.80,200.51 121.48,200.74" fill="none" stroke="#2f4a7e" stroke-width="1.4" stroke-linejoin="round"/>
<circle cx="36.06" cy="180.68" r="1.5" fill="#2f4a7e"/>
<circle cx="44.54" cy="182.50" r="1.5" fill="#2f4a7e"/>
<circle cx="52.21" cy="183.18" r="1.5" fill="#2f4a7e"/>
<circle cx="59.89" cy="198.92" r="1.5" fill="#2f4a7e"/>
<circle cx="67.55" cy="198.69" r="1.5" fill="#2f4a7e"/>
<circle cx="75.23" cy="198.23" r="1.5" fill="#2f4a7e"/>
<line x1="83.50" y1="154.68" x2="83.50" y2="163.80" stroke="#2f4a7e" stroke-width="0.7"/>
<line x1="82.40" y1="154.68" x2="84.60" y2="154.68" stroke="#2f4a7e" stroke-width="0.7"/>
<circle cx="83.52" cy="159.24" r="1.5" fill="#2f4a7e"/>
<line x1="90.50" y1="159.93" x2="90.50" y2="163.12" stroke="#2f4a7e" stroke-width="0.7"/>
<line x1="89.40" y1="159.93" x2="91.60" y2="159.93" stroke="#2f4a7e" stroke-width="0.7"/>
<circle cx="90.99" cy="161.52" r="1.5" fill="#2f4a7e"/>
<line x1="98.50" y1="159.24" x2="98.50" y2="162.44" stroke="#2f4a7e" stroke-width="0.7"/>
<line x1="97.40" y1="159.24" x2="99.60" y2="159.24" stroke="#2f4a7e" stroke-width="0.7"/>
<circle cx="98.66" cy="160.84" r="1.5" fill="#2f4a7e"/>
<circle cx="106.14" cy="200.28" r="1.5" fill="#2f4a7e"/>
<circle cx="113.80" cy="200.51" r="1.5" fill="#2f4a7e"/>
<circle cx="121.48" cy="200.74" r="1.5" fill="#2f4a7e"/>
<line x1="106.00" y1="149.10" x2="114.00" y2="149.10" stroke="#2f4a7e" stroke-width="1.5"/>
<circle cx="110.00" cy="149.10" r="1.5" fill="#2f4a7e"/>
<text x="0" y="0" font-size="5.3" text-anchor="start" fill="#111" stroke="#111" stroke-width="0.15" transform="translate(116.80 151.00) scale(0.930 1)">Normoxia Untreated</text>
<line x1="106.00" y1="158.90" x2="114.00" y2="158.90" stroke="#a6032e" stroke-width="1.5"/>
<circle cx="110.00" cy="158.90" r="1.5" fill="#a6032e"/>
<text x="0" y="0" font-size="5.3" text-anchor="start" fill="#111" stroke="#111" stroke-width="0.15" transform="translate(116.80 160.80) scale(0.930 1)">Hypoxia Untreated</text>
<line x1="106.00" y1="168.80" x2="114.00" y2="168.80" stroke="#5aae3a" stroke-width="1.5"/>
<circle cx="110.00" cy="168.80" r="1.5" fill="#5aae3a"/>
<text x="0" y="0" font-size="5.3" text-anchor="start" fill="#111" stroke="#111" stroke-width="0.15" transform="translate(116.80 170.70) scale(0.930 1)">Normoxia 50 µM CQ</text>
<line x1="106.00" y1="179.00" x2="114.00" y2="179.00" stroke="#4b1f6e" stroke-width="1.5"/>
<circle cx="110.00" cy="179.00" r="1.5" fill="#4b1f6e"/>
<text x="0" y="0" font-size="5.3" text-anchor="start" fill="#111" stroke="#111" stroke-width="0.15" transform="translate(116.80 180.90) scale(0.930 1)">Hypoxia 50 µM CQ</text>
<line x1="217.80" y1="142.70" x2="217.80" y2="210.00" stroke="#111" stroke-width="1.15"/>
<line x1="214.80" y1="209.90" x2="217.80" y2="209.90" stroke="#111" stroke-width="1.15"/>
<text x="212.00" y="212.24" font-size="6.5" text-anchor="end" fill="#111" stroke="#111" stroke-width="0.15">0</text>
<line x1="214.80" y1="197.00" x2="217.80" y2="197.00" stroke="#111" stroke-width="1.15"/>
<text x="212.00" y="199.34" font-size="6.5" text-anchor="end" fill="#111" stroke="#111" stroke-width="0.15">50</text>
<line x1="214.80" y1="184.10" x2="217.80" y2="184.10" stroke="#111" stroke-width="1.15"/>
<text x="212.00" y="186.44" font-size="6.5" text-anchor="end" fill="#111" stroke="#111" stroke-width="0.15">100</text>
<line x1="214.80" y1="171.20" x2="217.80" y2="171.20" stroke="#111" stroke-width="1.15"/>
<text x="212.00" y="173.54" font-size="6.5" text-anchor="end" fill="#111" stroke="#111" stroke-width="0.15">150</text>
<line x1="214.80" y1="158.30" x2="217.80" y2="158.30" stroke="#111" stroke-width="1.15"/>
<text x="212.00" y="160.64" font-size="6.5" text-anchor="end" fill="#111" stroke="#111" stroke-width="0.15">200</text>
<line x1="214.80" y1="145.40" x2="217.80" y2="145.40" stroke="#111" stroke-width="1.15"/>
<text x="212.00" y="147.74" font-size="6.5" text-anchor="end" fill="#111" stroke="#111" stroke-width="0.15">250</text>
<line x1="217.80" y1="210.00" x2="312.50" y2="210.00" stroke="#111" stroke-width="1.15"/>
<text x="0" y="0" font-size="6.3" text-anchor="middle" fill="#111" stroke="#111" stroke-width="0.3" transform="translate(195.60 177.50) rotate(-90) scale(0.880 1)">OCR (pmol/min)</text>
<rect x="221.95" y="169.65" width="6.70" height="40.35" fill="#2f4a7e" stroke="#1c376e" stroke-width="0.7"/>
<line x1="225.50" y1="160.20" x2="225.50" y2="177.60" stroke="#111" stroke-width="1.0"/>
<line x1="224.00" y1="160.20" x2="227.00" y2="160.20" stroke="#111" stroke-width="0.9"/>
<line x1="225.30" y1="210.00" x2="225.30" y2="212.60" stroke="#111" stroke-width="1.15"/>
<text x="225.30" y="221.70" font-size="6" text-anchor="middle" fill="#111" stroke="#111" stroke-width="0.15">Unt</text>
<rect x="233.59" y="171.55" width="6.70" height="38.45" fill="#2f4a7e" stroke="#1c376e" stroke-width="0.7"/>
<line x1="236.50" y1="165.10" x2="236.50" y2="178.20" stroke="#111" stroke-width="1.0"/>
<line x1="235.00" y1="165.10" x2="238.00" y2="165.10" stroke="#111" stroke-width="0.9"/>
<line x1="236.94" y1="210.00" x2="236.94" y2="212.60" stroke="#111" stroke-width="1.15"/>
<text x="236.94" y="221.70" font-size="6" text-anchor="middle" fill="#111" stroke="#111" stroke-width="0.15">25</text>
<rect x="245.23" y="172.15" width="6.70" height="37.85" fill="#2f4a7e" stroke="#1c376e" stroke-width="0.7"/>
<line x1="248.50" y1="169.10" x2="248.50" y2="175.00" stroke="#111" stroke-width="1.0"/>
<line x1="247.00" y1="169.10" x2="250.00" y2="169.10" stroke="#111" stroke-width="0.9"/>
<line x1="248.58" y1="210.00" x2="248.58" y2="212.60" stroke="#111" stroke-width="1.15"/>
<text x="248.58" y="221.70" font-size="6" text-anchor="middle" fill="#111" stroke="#111" stroke-width="0.15">50</text>
<rect x="256.87" y="170.05" width="6.70" height="39.95" fill="#2f4a7e" stroke="#1c376e" stroke-width="0.7"/>
<line x1="260.50" y1="168.70" x2="260.50" y2="170.20" stroke="#111" stroke-width="1.0"/>
<line x1="259.00" y1="168.70" x2="262.00" y2="168.70" stroke="#111" stroke-width="0.9"/>
<line x1="260.22" y1="210.00" x2="260.22" y2="212.60" stroke="#111" stroke-width="1.15"/>
<text x="260.22" y="221.70" font-size="6" text-anchor="middle" fill="#111" stroke="#111" stroke-width="0.15">100</text>
<rect x="268.51" y="173.25" width="6.70" height="36.75" fill="#a6032e" stroke="#96001f" stroke-width="0.7"/>
<line x1="271.50" y1="166.10" x2="271.50" y2="179.30" stroke="#111" stroke-width="1.0"/>
<line x1="270.00" y1="166.10" x2="273.00" y2="166.10" stroke="#111" stroke-width="0.9"/>
<line x1="271.86" y1="210.00" x2="271.86" y2="212.60" stroke="#111" stroke-width="1.15"/>
<text x="271.86" y="221.70" font-size="6" text-anchor="middle" fill="#111" stroke="#111" stroke-width="0.15">Unt</text>
<rect x="280.15" y="187.45" width="6.70" height="22.55" fill="#a6032e" stroke="#96001f" stroke-width="0.7"/>
<line x1="283.50" y1="184.50" x2="283.50" y2="189.40" stroke="#111" stroke-width="1.0"/>
<line x1="282.00" y1="184.50" x2="285.00" y2="184.50" stroke="#111" stroke-width="0.9"/>
<line x1="283.50" y1="210.00" x2="283.50" y2="212.60" stroke="#111" stroke-width="1.15"/>
<text x="283.50" y="221.70" font-size="6" text-anchor="middle" fill="#111" stroke="#111" stroke-width="0.15">25</text>
<rect x="291.79" y="198.25" width="6.70" height="11.75" fill="#a6032e" stroke="#96001f" stroke-width="0.7"/>
<line x1="295.50" y1="196.20" x2="295.50" y2="199.40" stroke="#111" stroke-width="1.0"/>
<line x1="294.00" y1="196.20" x2="297.00" y2="196.20" stroke="#111" stroke-width="0.9"/>
<line x1="295.14" y1="210.00" x2="295.14" y2="212.60" stroke="#111" stroke-width="1.15"/>
<text x="295.14" y="221.70" font-size="6" text-anchor="middle" fill="#111" stroke="#111" stroke-width="0.15">50</text>
<rect x="303.43" y="199.65" width="6.70" height="10.35" fill="#a6032e" stroke="#96001f" stroke-width="0.7"/>
<line x1="306.50" y1="197.40" x2="306.50" y2="201.00" stroke="#111" stroke-width="1.0"/>
<line x1="305.00" y1="197.40" x2="308.00" y2="197.40" stroke="#111" stroke-width="0.9"/>
<line x1="306.78" y1="210.00" x2="306.78" y2="212.60" stroke="#111" stroke-width="1.15"/>
<text x="306.78" y="221.70" font-size="6" text-anchor="middle" fill="#111" stroke="#111" stroke-width="0.15">100</text>
<text x="315.60" y="221.70" font-size="6" text-anchor="start" fill="#111" stroke="#111" stroke-width="0.15">µM CQ</text>
<line x1="220.70" y1="225.90" x2="265.80" y2="225.90" stroke="#111" stroke-width="1.0"/>
<line x1="268.00" y1="225.90" x2="313.00" y2="225.90" stroke="#111" stroke-width="1.0"/>
<text x="245.80" y="235.00" font-size="6.3" text-anchor="middle" fill="#111" stroke="#111" stroke-width="0.15">21% O<tspan font-size="0.62em" dx="0.12em" dy="0.42em">2</tspan></text>
<text x="293.00" y="235.00" font-size="6.3" text-anchor="middle" fill="#111" stroke="#111" stroke-width="0.15">1% O<tspan font-size="0.62em" dx="0.12em" dy="0.42em">2</tspan></text>
<circle cx="283.50" cy="182.20" r="0.72" fill="#2a2a2a"/>
<circle cx="295.14" cy="193.50" r="0.72" fill="#2a2a2a"/>
<circle cx="306.78" cy="194.80" r="0.72" fill="#2a2a2a"/>
<line x1="236.00" y1="161.30" x2="284.00" y2="161.30" stroke="#222" stroke-width="0.9"/>
<circle cx="236.60" cy="161.30" r="0.8" fill="#111"/>
<circle cx="283.40" cy="161.30" r="0.8" fill="#111"/>
<circle cx="260.10" cy="159.20" r="0.72" fill="#2a2a2a"/>
<line x1="249.80" y1="154.90" x2="297.80" y2="154.90" stroke="#222" stroke-width="0.9"/>
<circle cx="250.40" cy="154.90" r="0.8" fill="#111"/>
<circle cx="297.20" cy="154.90" r="0.8" fill="#111"/>
<circle cx="270.90" cy="152.80" r="0.72" fill="#2a2a2a"/>
<circle cx="273.10" cy="152.80" r="0.72" fill="#2a2a2a"/>
<line x1="260.10" y1="149.00" x2="307.70" y2="149.00" stroke="#222" stroke-width="0.9"/>
<circle cx="260.70" cy="149.00" r="0.8" fill="#111"/>
<circle cx="307.10" cy="149.00" r="0.8" fill="#111"/>
<circle cx="279.80" cy="146.90" r="0.72" fill="#2a2a2a"/>
<circle cx="282.00" cy="146.90" r="0.72" fill="#2a2a2a"/>
<circle cx="284.20" cy="146.90" r="0.72" fill="#2a2a2a"/>
<text x="7.20" y="257.20" font-size="12" text-anchor="start" font-weight="bold" fill="#000" stroke="#000" stroke-width="0.15">F</text>
<line x1="35.60" y1="276.70" x2="35.60" y2="336.60" stroke="#111" stroke-width="1.15"/>
<line x1="32.60" y1="331.90" x2="35.60" y2="331.90" stroke="#111" stroke-width="1.15"/>
<text x="29.60" y="334.10" font-size="6" text-anchor="end" fill="#111" stroke="#111" stroke-width="0.15">0</text>
<line x1="32.60" y1="309.90" x2="35.60" y2="309.90" stroke="#111" stroke-width="1.15"/>
<text x="29.60" y="312.10" font-size="6" text-anchor="end" fill="#111" stroke="#111" stroke-width="0.15">100</text>
<line x1="32.60" y1="287.90" x2="35.60" y2="287.90" stroke="#111" stroke-width="1.15"/>
<text x="29.60" y="290.10" font-size="6" text-anchor="end" fill="#111" stroke="#111" stroke-width="0.15">200</text>
<line x1="35.60" y1="336.60" x2="128.10" y2="336.60" stroke="#111" stroke-width="1.15"/>
<line x1="35.60" y1="336.60" x2="35.60" y2="339.40" stroke="#111" stroke-width="1.15"/>
<text x="35.60" y="347.90" font-size="6" text-anchor="middle" fill="#111" stroke="#111" stroke-width="0.15">0</text>
<line x1="58.10" y1="336.60" x2="58.10" y2="339.40" stroke="#111" stroke-width="1.15"/>
<text x="58.10" y="347.90" font-size="6" text-anchor="middle" fill="#111" stroke="#111" stroke-width="0.15">20</text>
<line x1="80.60" y1="336.60" x2="80.60" y2="339.40" stroke="#111" stroke-width="1.15"/>
<text x="80.60" y="347.90" font-size="6" text-anchor="middle" fill="#111" stroke="#111" stroke-width="0.15">40</text>
<line x1="103.10" y1="336.60" x2="103.10" y2="339.40" stroke="#111" stroke-width="1.15"/>
<text x="103.10" y="347.90" font-size="6" text-anchor="middle" fill="#111" stroke="#111" stroke-width="0.15">60</text>
<line x1="125.60" y1="336.60" x2="125.60" y2="339.40" stroke="#111" stroke-width="1.15"/>
<text x="125.60" y="347.90" font-size="6" text-anchor="middle" fill="#111" stroke="#111" stroke-width="0.15">80</text>
<text x="0" y="0" font-size="7.3" text-anchor="middle" fill="#111" stroke="#111" stroke-width="0.25" transform="translate(81.90 360.00) scale(0.800 1)">Time (minutes)</text>
<text x="0" y="0" font-size="6.8" text-anchor="middle" fill="#111" stroke="#111" stroke-width="0.3" transform="translate(13.10 306.50) rotate(-90) scale(0.860 1)">OCR (pmol/min)</text>
<polyline points="35.95,323.54 44.17,324.64 51.61,325.08 59.06,325.08 66.49,325.08 73.94,329.70 81.97,324.20 89.22,323.54 96.66,323.76 103.91,328.60 111.35,328.82 118.79,328.82" fill="none" stroke="#5aae3a" stroke-width="1.4" stroke-linejoin="round"/>
<line x1="35.50" y1="322.66" x2="35.50" y2="324.42" stroke="#5aae3a" stroke-width="0.7"/>
<line x1="34.40" y1="322.66" x2="36.60" y2="322.66" stroke="#5aae3a" stroke-width="0.7"/>
<circle cx="35.95" cy="323.54" r="1.5" fill="#5aae3a"/>
<line x1="44.50" y1="324.20" x2="44.50" y2="325.08" stroke="#5aae3a" stroke-width="0.7"/>
<line x1="43.40" y1="324.20" x2="45.60" y2="324.20" stroke="#5aae3a" stroke-width="0.7"/>
<circle cx="44.17" cy="324.64" r="1.5" fill="#5aae3a"/>
<line x1="51.50" y1="324.64" x2="51.50" y2="325.52" stroke="#5aae3a" stroke-width="0.7"/>
<line x1="50.40" y1="324.64" x2="52.60" y2="324.64" stroke="#5aae3a" stroke-width="0.7"/>
<circle cx="51.61" cy="325.08" r="1.5" fill="#5aae3a"/>
<line x1="59.50" y1="322.66" x2="59.50" y2="327.50" stroke="#5aae3a" stroke-width="0.7"/>
<line x1="58.40" y1="322.66" x2="60.60" y2="322.66" stroke="#5aae3a" stroke-width="0.7"/>
<circle cx="59.06" cy="325.08" r="1.5" fill="#5aae3a"/>
<line x1="66.50" y1="323.32" x2="66.50" y2="326.84" stroke="#5aae3a" stroke-width="0.7"/>
<line x1="65.40" y1="323.32" x2="67.60" y2="323.32" stroke="#5aae3a" stroke-width="0.7"/>
<circle cx="66.49" cy="325.08" r="1.5" fill="#5aae3a"/>
<line x1="73.50" y1="327.50" x2="73.50" y2="331.90" stroke="#5aae3a" stroke-width="0.7"/>
<line x1="72.40" y1="327.50" x2="74.60" y2="327.50" stroke="#5aae3a" stroke-width="0.7"/>
<circle cx="73.94" cy="329.70" r="1.5" fill="#5aae3a"/>
<circle cx="81.97" cy="324.20" r="1.5" fill="#5aae3a"/>
<circle cx="89.22" cy="323.54" r="1.5" fill="#5aae3a"/>
<circle cx="96.66" cy="323.76" r="1.5" fill="#5aae3a"/>
<circle cx="103.91" cy="328.60" r="1.5" fill="#5aae3a"/>
<circle cx="111.35" cy="328.82" r="1.5" fill="#5aae3a"/>
<circle cx="118.79" cy="328.82" r="1.5" fill="#5aae3a"/>
<polyline points="35.95,327.94 44.17,328.38 51.61,328.38 59.06,328.38 66.49,328.38 73.94,328.38 81.97,328.16 89.22,328.16 96.66,328.16 103.91,329.04 111.35,329.26 118.79,329.26" fill="none" stroke="#4b1f6e" stroke-width="1.4" stroke-linejoin="round"/>
<line x1="35.50" y1="327.28" x2="35.50" y2="328.60" stroke="#4b1f6e" stroke-width="0.7"/>
<line x1="34.40" y1="327.28" x2="36.60" y2="327.28" stroke="#4b1f6e" stroke-width="0.7"/>
<circle cx="35.95" cy="327.94" r="1.5" fill="#4b1f6e"/>
<line x1="44.50" y1="327.72" x2="44.50" y2="329.04" stroke="#4b1f6e" stroke-width="0.7"/>
<line x1="43.40" y1="327.72" x2="45.60" y2="327.72" stroke="#4b1f6e" stroke-width="0.7"/>
<circle cx="44.17" cy="328.38" r="1.5" fill="#4b1f6e"/>
<line x1="51.50" y1="327.72" x2="51.50" y2="329.04" stroke="#4b1f6e" stroke-width="0.7"/>
<line x1="50.40" y1="327.72" x2="52.60" y2="327.72" stroke="#4b1f6e" stroke-width="0.7"/>
<circle cx="51.61" cy="328.38" r="1.5" fill="#4b1f6e"/>
<line x1="59.50" y1="327.72" x2="59.50" y2="329.04" stroke="#4b1f6e" stroke-width="0.7"/>
<line x1="58.40" y1="327.72" x2="60.60" y2="327.72" stroke="#4b1f6e" stroke-width="0.7"/>
<circle cx="59.06" cy="328.38" r="1.5" fill="#4b1f6e"/>
<line x1="66.50" y1="327.72" x2="66.50" y2="329.04" stroke="#4b1f6e" stroke-width="0.7"/>
<line x1="65.40" y1="327.72" x2="67.60" y2="327.72" stroke="#4b1f6e" stroke-width="0.7"/>
<circle cx="66.49" cy="328.38" r="1.5" fill="#4b1f6e"/>
<line x1="73.50" y1="327.72" x2="73.50" y2="329.04" stroke="#4b1f6e" stroke-width="0.7"/>
<line x1="72.40" y1="327.72" x2="74.60" y2="327.72" stroke="#4b1f6e" stroke-width="0.7"/>
<circle cx="73.94" cy="328.38" r="1.5" fill="#4b1f6e"/>
<circle cx="81.97" cy="328.16" r="1.5" fill="#4b1f6e"/>
<circle cx="89.22" cy="328.16" r="1.5" fill="#4b1f6e"/>
<circle cx="96.66" cy="328.16" r="1.5" fill="#4b1f6e"/>
<line x1="103.50" y1="328.38" x2="103.50" y2="329.70" stroke="#4b1f6e" stroke-width="0.7"/>
<line x1="102.40" y1="328.38" x2="104.60" y2="328.38" stroke="#4b1f6e" stroke-width="0.7"/>
<circle cx="103.91" cy="329.04" r="1.5" fill="#4b1f6e"/>
<line x1="111.50" y1="328.60" x2="111.50" y2="329.92" stroke="#4b1f6e" stroke-width="0.7"/>
<line x1="110.40" y1="328.60" x2="112.60" y2="328.60" stroke="#4b1f6e" stroke-width="0.7"/>
<circle cx="111.35" cy="329.26" r="1.5" fill="#4b1f6e"/>
<line x1="118.50" y1="328.60" x2="118.50" y2="329.92" stroke="#4b1f6e" stroke-width="0.7"/>
<line x1="117.40" y1="328.60" x2="119.60" y2="328.60" stroke="#4b1f6e" stroke-width="0.7"/>
<circle cx="118.79" cy="329.26" r="1.5" fill="#4b1f6e"/>
<polyline points="35.95,317.38 44.17,318.26 51.61,318.26 59.06,325.74 66.49,326.18 73.94,326.18 81.97,292.96 89.22,293.84 96.66,293.84 103.91,328.60 111.35,328.60 118.79,328.60" fill="none" stroke="#a6032e" stroke-width="1.4" stroke-linejoin="round"/>
<circle cx="35.95" cy="317.38" r="1.5" fill="#a6032e"/>
<circle cx="44.17" cy="318.26" r="1.5" fill="#a6032e"/>
<circle cx="51.61" cy="318.26" r="1.5" fill="#a6032e"/>
<circle cx="59.06" cy="325.74" r="1.5" fill="#a6032e"/>
<circle cx="66.49" cy="326.18" r="1.5" fill="#a6032e"/>
<circle cx="73.94" cy="326.18" r="1.5" fill="#a6032e"/>
<line x1="81.50" y1="291.20" x2="81.50" y2="294.72" stroke="#a6032e" stroke-width="0.7"/>
<line x1="80.40" y1="291.20" x2="82.60" y2="291.20" stroke="#a6032e" stroke-width="0.7"/>
<circle cx="81.97" cy="292.96" r="1.5" fill="#a6032e"/>
<line x1="89.50" y1="292.52" x2="89.50" y2="295.16" stroke="#a6032e" stroke-width="0.7"/>
<line x1="88.40" y1="292.52" x2="90.60" y2="292.52" stroke="#a6032e" stroke-width="0.7"/>
<circle cx="89.22" cy="293.84" r="1.5" fill="#a6032e"/>
<line x1="96.50" y1="292.52" x2="96.50" y2="295.16" stroke="#a6032e" stroke-width="0.7"/>
<line x1="95.40" y1="292.52" x2="97.60" y2="292.52" stroke="#a6032e" stroke-width="0.7"/>
<circle cx="96.66" cy="293.84" r="1.5" fill="#a6032e"/>
<line x1="103.50" y1="327.94" x2="103.50" y2="329.26" stroke="#a6032e" stroke-width="0.7"/>
<line x1="102.40" y1="327.94" x2="104.60" y2="327.94" stroke="#a6032e" stroke-width="0.7"/>
<circle cx="103.91" cy="328.60" r="1.5" fill="#a6032e"/>
<line x1="111.50" y1="327.94" x2="111.50" y2="329.26" stroke="#a6032e" stroke-width="0.7"/>
<line x1="110.40" y1="327.94" x2="112.60" y2="327.94" stroke="#a6032e" stroke-width="0.7"/>
<circle cx="111.35" cy="328.60" r="1.5" fill="#a6032e"/>
<line x1="118.50" y1="327.94" x2="118.50" y2="329.26" stroke="#a6032e" stroke-width="0.7"/>
<line x1="117.40" y1="327.94" x2="119.60" y2="327.94" stroke="#a6032e" stroke-width="0.7"/>
<circle cx="118.79" cy="328.60" r="1.5" fill="#a6032e"/>
<polyline points="35.95,308.14 44.17,309.68 51.61,310.12 59.06,325.52 66.49,325.52 73.94,325.74 81.97,287.90 89.22,289.44 96.66,289.44 103.91,327.06 111.35,327.06 118.79,327.06" fill="none" stroke="#2f4a7e" stroke-width="1.4" stroke-linejoin="round"/>
<circle cx="35.95" cy="308.14" r="1.5" fill="#2f4a7e"/>
<circle cx="44.17" cy="309.68" r="1.5" fill="#2f4a7e"/>
<circle cx="51.61" cy="310.12" r="1.5" fill="#2f4a7e"/>
<circle cx="59.06" cy="325.52" r="1.5" fill="#2f4a7e"/>
<circle cx="66.49" cy="325.52" r="1.5" fill="#2f4a7e"/>
<circle cx="73.94" cy="325.74" r="1.5" fill="#2f4a7e"/>
<line x1="81.50" y1="283.06" x2="81.50" y2="292.74" stroke="#2f4a7e" stroke-width="0.7"/>
<line x1="80.40" y1="283.06" x2="82.60" y2="283.06" stroke="#2f4a7e" stroke-width="0.7"/>
<circle cx="81.97" cy="287.90" r="1.5" fill="#2f4a7e"/>
<line x1="89.50" y1="287.68" x2="89.50" y2="291.20" stroke="#2f4a7e" stroke-width="0.7"/>
<line x1="88.40" y1="287.68" x2="90.60" y2="287.68" stroke="#2f4a7e" stroke-width="0.7"/>
<circle cx="89.22" cy="289.44" r="1.5" fill="#2f4a7e"/>
<line x1="96.50" y1="287.68" x2="96.50" y2="291.20" stroke="#2f4a7e" stroke-width="0.7"/>
<line x1="95.40" y1="287.68" x2="97.60" y2="287.68" stroke="#2f4a7e" stroke-width="0.7"/>
<circle cx="96.66" cy="289.44" r="1.5" fill="#2f4a7e"/>
<circle cx="103.91" cy="327.06" r="1.5" fill="#2f4a7e"/>
<circle cx="111.35" cy="327.06" r="1.5" fill="#2f4a7e"/>
<circle cx="118.79" cy="327.06" r="1.5" fill="#2f4a7e"/>
<line x1="102.00" y1="274.20" x2="110.00" y2="274.20" stroke="#2f4a7e" stroke-width="1.5"/>
<circle cx="106.00" cy="274.20" r="1.5" fill="#2f4a7e"/>
<text x="0" y="0" font-size="5.3" text-anchor="start" fill="#111" stroke="#111" stroke-width="0.15" transform="translate(112.80 276.10) scale(0.930 1)">Normoxia Untreated</text>
<line x1="102.00" y1="284.10" x2="110.00" y2="284.10" stroke="#a6032e" stroke-width="1.5"/>
<circle cx="106.00" cy="284.10" r="1.5" fill="#a6032e"/>
<text x="0" y="0" font-size="5.3" text-anchor="start" fill="#111" stroke="#111" stroke-width="0.15" transform="translate(112.80 286.00) scale(0.930 1)">Hypoxia Untreated</text>
<line x1="102.00" y1="294.50" x2="110.00" y2="294.50" stroke="#5aae3a" stroke-width="1.5"/>
<circle cx="106.00" cy="294.50" r="1.5" fill="#5aae3a"/>
<text x="0" y="0" font-size="5.3" text-anchor="start" fill="#111" stroke="#111" stroke-width="0.15" transform="translate(112.80 296.40) scale(0.930 1)">Normoxia25 nM BafA1</text>
<line x1="102.00" y1="304.40" x2="110.00" y2="304.40" stroke="#4b1f6e" stroke-width="1.5"/>
<circle cx="106.00" cy="304.40" r="1.5" fill="#4b1f6e"/>
<text x="0" y="0" font-size="5.3" text-anchor="start" fill="#111" stroke="#111" stroke-width="0.15" transform="translate(112.80 306.30) scale(0.930 1)">Hypoxia 25 nM BafA1</text>
<line x1="217.80" y1="270.30" x2="217.80" y2="336.50" stroke="#111" stroke-width="1.15"/>
<line x1="214.80" y1="336.50" x2="217.80" y2="336.50" stroke="#111" stroke-width="1.15"/>
<text x="212.00" y="338.84" font-size="6.5" text-anchor="end" fill="#111" stroke="#111" stroke-width="0.15">0</text>
<line x1="214.80" y1="320.47" x2="217.80" y2="320.47" stroke="#111" stroke-width="1.15"/>
<text x="212.00" y="322.81" font-size="6.5" text-anchor="end" fill="#111" stroke="#111" stroke-width="0.15">100</text>
<line x1="214.80" y1="304.44" x2="217.80" y2="304.44" stroke="#111" stroke-width="1.15"/>
<text x="212.00" y="306.78" font-size="6.5" text-anchor="end" fill="#111" stroke="#111" stroke-width="0.15">200</text>
<line x1="214.80" y1="288.41" x2="217.80" y2="288.41" stroke="#111" stroke-width="1.15"/>
<text x="212.00" y="290.75" font-size="6.5" text-anchor="end" fill="#111" stroke="#111" stroke-width="0.15">300</text>
<line x1="214.80" y1="272.38" x2="217.80" y2="272.38" stroke="#111" stroke-width="1.15"/>
<text x="212.00" y="274.72" font-size="6.5" text-anchor="end" fill="#111" stroke="#111" stroke-width="0.15">400</text>
<line x1="217.80" y1="336.50" x2="312.50" y2="336.50" stroke="#111" stroke-width="1.15"/>
<text x="0" y="0" font-size="6.3" text-anchor="middle" fill="#111" stroke="#111" stroke-width="0.3" transform="translate(195.60 303.60) rotate(-90) scale(0.880 1)">OCR (pmol/min)</text>
<rect x="221.95" y="300.65" width="6.70" height="35.85" fill="#2f4a7e" stroke="#1c376e" stroke-width="0.7"/>
<line x1="225.50" y1="286.80" x2="225.50" y2="301.00" stroke="#111" stroke-width="1.0"/>
<line x1="224.00" y1="286.80" x2="227.00" y2="286.80" stroke="#111" stroke-width="0.9"/>
<line x1="225.30" y1="336.50" x2="225.30" y2="339.10" stroke="#111" stroke-width="1.15"/>
<text x="225.30" y="347.60" font-size="6" text-anchor="middle" fill="#111" stroke="#111" stroke-width="0.15">Unt</text>
<rect x="233.59" y="312.35" width="6.70" height="24.15" fill="#2f4a7e" stroke="#1c376e" stroke-width="0.7"/>
<line x1="236.50" y1="306.30" x2="236.50" y2="313.00" stroke="#111" stroke-width="1.0"/>
<line x1="235.00" y1="306.30" x2="238.00" y2="306.30" stroke="#111" stroke-width="0.9"/>
<line x1="236.94" y1="336.50" x2="236.94" y2="339.10" stroke="#111" stroke-width="1.15"/>
<text x="236.94" y="347.60" font-size="6" text-anchor="middle" fill="#111" stroke="#111" stroke-width="0.15">5</text>
<rect x="245.23" y="332.45" width="6.70" height="4.05" fill="#2f4a7e" stroke="#1c376e" stroke-width="0.7"/>
<line x1="248.50" y1="330.20" x2="248.50" y2="333.00" stroke="#111" stroke-width="1.0"/>
<line x1="247.00" y1="330.20" x2="250.00" y2="330.20" stroke="#111" stroke-width="0.9"/>
<line x1="248.58" y1="336.50" x2="248.58" y2="339.10" stroke="#111" stroke-width="1.15"/>
<text x="248.58" y="347.60" font-size="6" text-anchor="middle" fill="#111" stroke="#111" stroke-width="0.15">25</text>
<rect x="256.87" y="333.45" width="6.70" height="3.05" fill="#2f4a7e" stroke="#1c376e" stroke-width="0.7"/>
<line x1="260.50" y1="331.60" x2="260.50" y2="334.00" stroke="#111" stroke-width="1.0"/>
<line x1="259.00" y1="331.60" x2="262.00" y2="331.60" stroke="#111" stroke-width="0.9"/>
<line x1="260.22" y1="336.50" x2="260.22" y2="339.10" stroke="#111" stroke-width="1.15"/>
<text x="260.22" y="347.60" font-size="6" text-anchor="middle" fill="#111" stroke="#111" stroke-width="0.15">50</text>
<rect x="268.51" y="309.75" width="6.70" height="26.75" fill="#a6032e" stroke="#96001f" stroke-width="0.7"/>
<line x1="271.50" y1="303.50" x2="271.50" y2="310.00" stroke="#111" stroke-width="1.0"/>
<line x1="270.00" y1="303.50" x2="273.00" y2="303.50" stroke="#111" stroke-width="0.9"/>
<line x1="271.86" y1="336.50" x2="271.86" y2="339.10" stroke="#111" stroke-width="1.15"/>
<text x="271.86" y="347.60" font-size="6" text-anchor="middle" fill="#111" stroke="#111" stroke-width="0.15">Unt</text>
<rect x="280.15" y="325.65" width="6.70" height="10.85" fill="#a6032e" stroke="#96001f" stroke-width="0.7"/>
<line x1="283.50" y1="320.40" x2="283.50" y2="326.00" stroke="#111" stroke-width="1.0"/>
<line x1="282.00" y1="320.40" x2="285.00" y2="320.40" stroke="#111" stroke-width="0.9"/>
<line x1="283.50" y1="336.50" x2="283.50" y2="339.10" stroke="#111" stroke-width="1.15"/>
<text x="283.50" y="347.60" font-size="6" text-anchor="middle" fill="#111" stroke="#111" stroke-width="0.15">5</text>
<rect x="291.79" y="333.65" width="6.70" height="2.85" fill="#a6032e" stroke="#96001f" stroke-width="0.7"/>
<line x1="295.50" y1="330.60" x2="295.50" y2="334.00" stroke="#111" stroke-width="1.0"/>
<line x1="294.00" y1="330.60" x2="297.00" y2="330.60" stroke="#111" stroke-width="0.9"/>
<line x1="295.14" y1="336.50" x2="295.14" y2="339.10" stroke="#111" stroke-width="1.15"/>
<text x="295.14" y="347.60" font-size="6" text-anchor="middle" fill="#111" stroke="#111" stroke-width="0.15">25</text>
<rect x="303.08" y="335.20" width="7.40" height="1.30" fill="#a6032e"/>
<line x1="306.50" y1="334.20" x2="306.50" y2="336.00" stroke="#111" stroke-width="1.0"/>
<line x1="305.00" y1="334.20" x2="308.00" y2="334.20" stroke="#111" stroke-width="0.9"/>
<line x1="306.78" y1="336.50" x2="306.78" y2="339.10" stroke="#111" stroke-width="1.15"/>
<text x="306.78" y="347.60" font-size="6" text-anchor="middle" fill="#111" stroke="#111" stroke-width="0.15">50</text>
<text x="313.00" y="347.60" font-size="5.8" text-anchor="start" fill="#111" stroke="#111" stroke-width="0.15">nM BafA1</text>
<line x1="220.70" y1="352.30" x2="265.80" y2="352.30" stroke="#111" stroke-width="1.0"/>
<line x1="268.00" y1="352.30" x2="313.00" y2="352.30" stroke="#111" stroke-width="1.0"/>
<text x="243.30" y="360.00" font-size="6" text-anchor="middle" fill="#111" stroke="#111" stroke-width="0.15">21% O<tspan font-size="0.62em" dx="0.12em" dy="0.42em">2</tspan></text>
<text x="290.50" y="360.00" font-size="6" text-anchor="middle" fill="#111" stroke="#111" stroke-width="0.15">1% O<tspan font-size="0.62em" dx="0.12em" dy="0.42em">2</tspan></text>
<circle cx="248.58" cy="327.10" r="0.72" fill="#2a2a2a"/>
<circle cx="259.12" cy="329.00" r="0.72" fill="#2a2a2a"/>
<circle cx="261.32" cy="329.00" r="0.72" fill="#2a2a2a"/>
<circle cx="282.40" cy="317.60" r="0.72" fill="#2a2a2a"/>
<circle cx="284.60" cy="317.60" r="0.72" fill="#2a2a2a"/>
<circle cx="295.14" cy="327.10" r="0.72" fill="#2a2a2a"/>
<circle cx="305.68" cy="331.10" r="0.72" fill="#2a2a2a"/>
<circle cx="307.88" cy="331.10" r="0.72" fill="#2a2a2a"/>
<line x1="236.00" y1="300.50" x2="283.60" y2="300.50" stroke="#222" stroke-width="0.9"/>
<circle cx="236.60" cy="300.50" r="0.8" fill="#111"/>
<circle cx="283.00" cy="300.50" r="0.8" fill="#111"/>
<circle cx="258.60" cy="297.50" r="0.72" fill="#2a2a2a"/>
<circle cx="260.80" cy="297.50" r="0.72" fill="#2a2a2a"/>
<line x1="247.70" y1="294.20" x2="295.00" y2="294.20" stroke="#222" stroke-width="0.9"/>
<circle cx="248.30" cy="294.20" r="0.8" fill="#111"/>
<circle cx="294.40" cy="294.20" r="0.8" fill="#111"/>
<text x="269.20" y="293.52" font-size="5.4" text-anchor="middle" fill="#111" stroke="#111" stroke-width="0.05">ns</text>
<line x1="256.10" y1="287.60" x2="303.70" y2="287.60" stroke="#222" stroke-width="0.9"/>
<circle cx="256.70" cy="287.60" r="0.8" fill="#111"/>
<circle cx="303.10" cy="287.60" r="0.8" fill="#111"/>
<text x="277.70" y="286.72" font-size="5.4" text-anchor="middle" fill="#111" stroke="#111" stroke-width="0.05">ns</text>
<text x="356.80" y="130.60" font-size="11.5" text-anchor="start" font-weight="bold" fill="#000" stroke="#000" stroke-width="0.15">G</text>
<line x1="387.20" y1="137.80" x2="387.20" y2="210.30" stroke="#111" stroke-width="1.15"/>
<line x1="384.20" y1="210.30" x2="387.20" y2="210.30" stroke="#111" stroke-width="1.15"/>
<text x="380.70" y="212.46" font-size="6" text-anchor="end" fill="#111" stroke="#111" stroke-width="0.15">0</text>
<line x1="384.20" y1="196.20" x2="387.20" y2="196.20" stroke="#111" stroke-width="1.15"/>
<text x="380.70" y="198.36" font-size="6" text-anchor="end" fill="#111" stroke="#111" stroke-width="0.15">500</text>
<line x1="384.20" y1="182.10" x2="387.20" y2="182.10" stroke="#111" stroke-width="1.15"/>
<text x="380.70" y="184.26" font-size="6" text-anchor="end" fill="#111" stroke="#111" stroke-width="0.15">1000</text>
<line x1="384.20" y1="168.00" x2="387.20" y2="168.00" stroke="#111" stroke-width="1.15"/>
<text x="380.70" y="170.16" font-size="6" text-anchor="end" fill="#111" stroke="#111" stroke-width="0.15">1500</text>
<line x1="384.20" y1="153.90" x2="387.20" y2="153.90" stroke="#111" stroke-width="1.15"/>
<text x="380.70" y="156.06" font-size="6" text-anchor="end" fill="#111" stroke="#111" stroke-width="0.15">2000</text>
<line x1="384.20" y1="139.80" x2="387.20" y2="139.80" stroke="#111" stroke-width="1.15"/>
<text x="380.70" y="141.96" font-size="6" text-anchor="end" fill="#111" stroke="#111" stroke-width="0.15">2500</text>
<line x1="387.20" y1="210.30" x2="493.30" y2="210.30" stroke="#111" stroke-width="1.15"/>
<text x="0" y="0" font-size="6.3" text-anchor="middle" fill="#111" stroke="#111" stroke-width="0.3" transform="translate(363.20 173.60) rotate(-90) scale(0.900 1)">MFI MitoID</text>
<rect x="397.30" y="139.70" width="5.20" height="5.30" fill="#2f4a7e"/>
<text x="405.90" y="144.40" font-size="5.4" text-anchor="start" fill="#111" stroke="#111" stroke-width="0.15">21% O<tspan font-size="0.62em" dx="0.12em" dy="0.42em">2</tspan></text>
<rect x="432.50" y="139.70" width="5.20" height="5.30" fill="#a6032e"/>
<text x="441.50" y="144.40" font-size="5.4" text-anchor="start" fill="#111" stroke="#111" stroke-width="0.15">1% O<tspan font-size="0.62em" dx="0.12em" dy="0.42em">2</tspan></text>
<rect x="391.35" y="194.65" width="5.80" height="15.65" fill="#2f4a7e" stroke="#1c376e" stroke-width="0.7"/>
<line x1="394.50" y1="187.30" x2="394.50" y2="195.30" stroke="#111" stroke-width="1.0"/>
<line x1="392.90" y1="187.30" x2="396.10" y2="187.30" stroke="#111" stroke-width="0.9"/>
<rect x="401.25" y="192.65" width="5.80" height="17.65" fill="#a6032e" stroke="#96001f" stroke-width="0.7"/>
<line x1="404.50" y1="187.60" x2="404.50" y2="193.30" stroke="#111" stroke-width="1.0"/>
<line x1="402.90" y1="187.60" x2="406.10" y2="187.60" stroke="#111" stroke-width="0.9"/>
<line x1="399.20" y1="210.30" x2="399.20" y2="212.90" stroke="#111" stroke-width="1.15"/>
<text x="399.20" y="221.70" font-size="6" text-anchor="middle" fill="#111" stroke="#111" stroke-width="0.15">Unt</text>
<rect x="418.45" y="190.65" width="5.80" height="19.65" fill="#2f4a7e" stroke="#1c376e" stroke-width="0.7"/>
<line x1="421.50" y1="183.50" x2="421.50" y2="191.30" stroke="#111" stroke-width="1.0"/>
<line x1="419.90" y1="183.50" x2="423.10" y2="183.50" stroke="#111" stroke-width="0.9"/>
<rect x="428.35" y="188.75" width="5.80" height="21.55" fill="#a6032e" stroke="#96001f" stroke-width="0.7"/>
<line x1="431.50" y1="184.20" x2="431.50" y2="189.40" stroke="#111" stroke-width="1.0"/>
<line x1="429.90" y1="184.20" x2="433.10" y2="184.20" stroke="#111" stroke-width="0.9"/>
<line x1="426.30" y1="210.30" x2="426.30" y2="212.90" stroke="#111" stroke-width="1.15"/>
<text x="426.30" y="221.70" font-size="6" text-anchor="middle" fill="#111" stroke="#111" stroke-width="0.15">25µM</text>
<rect x="445.45" y="190.35" width="5.80" height="19.95" fill="#2f4a7e" stroke="#1c376e" stroke-width="0.7"/>
<line x1="448.50" y1="187.60" x2="448.50" y2="191.00" stroke="#111" stroke-width="1.0"/>
<line x1="446.90" y1="187.60" x2="450.10" y2="187.60" stroke="#111" stroke-width="0.9"/>
<rect x="455.35" y="172.65" width="5.80" height="37.65" fill="#a6032e" stroke="#96001f" stroke-width="0.7"/>
<line x1="458.50" y1="163.40" x2="458.50" y2="173.30" stroke="#111" stroke-width="1.0"/>
<line x1="456.90" y1="163.40" x2="460.10" y2="163.40" stroke="#111" stroke-width="0.9"/>
<line x1="453.30" y1="210.30" x2="453.30" y2="212.90" stroke="#111" stroke-width="1.15"/>
<text x="453.30" y="221.70" font-size="6" text-anchor="middle" fill="#111" stroke="#111" stroke-width="0.15">50µM</text>
<rect x="472.85" y="180.75" width="5.80" height="29.55" fill="#2f4a7e" stroke="#1c376e" stroke-width="0.7"/>
<line x1="475.50" y1="173.30" x2="475.50" y2="181.40" stroke="#111" stroke-width="1.0"/>
<line x1="473.90" y1="173.30" x2="477.10" y2="173.30" stroke="#111" stroke-width="0.9"/>
<rect x="482.75" y="150.55" width="5.80" height="59.75" fill="#a6032e" stroke="#96001f" stroke-width="0.7"/>
<line x1="485.50" y1="145.60" x2="485.50" y2="151.20" stroke="#111" stroke-width="1.0"/>
<line x1="483.90" y1="145.60" x2="487.10" y2="145.60" stroke="#111" stroke-width="0.9"/>
<line x1="480.70" y1="210.30" x2="480.70" y2="212.90" stroke="#111" stroke-width="1.15"/>
<text x="480.70" y="221.70" font-size="6" text-anchor="middle" fill="#111" stroke="#111" stroke-width="0.15">100µM</text>
<text x="493.30" y="221.70" font-size="6" text-anchor="start" fill="#111" stroke="#111" stroke-width="0.15">CQ</text>
<line x1="390.50" y1="184.40" x2="408.50" y2="184.40" stroke="#222" stroke-width="0.9"/>
<circle cx="391.10" cy="184.40" r="0.8" fill="#111"/>
<circle cx="407.90" cy="184.40" r="0.8" fill="#111"/>
<text x="399.20" y="182.32" font-size="5.4" text-anchor="middle" fill="#111" stroke="#111" stroke-width="0.05">ns</text>
<line x1="417.40" y1="177.80" x2="435.10" y2="177.80" stroke="#222" stroke-width="0.9"/>
<circle cx="418.00" cy="177.80" r="0.8" fill="#111"/>
<circle cx="434.50" cy="177.80" r="0.8" fill="#111"/>
<text x="426.30" y="176.02" font-size="5.4" text-anchor="middle" fill="#111" stroke="#111" stroke-width="0.05">ns</text>
<text x="421.10" y="182.22" font-size="5.4" text-anchor="middle" fill="#111" stroke="#111" stroke-width="0.05">ns</text>
<text x="431.50" y="182.22" font-size="5.4" text-anchor="middle" fill="#111" stroke="#111" stroke-width="0.05">ns</text>
<text x="448.30" y="185.22" font-size="5.4" text-anchor="middle" fill="#111" stroke="#111" stroke-width="0.05">ns</text>
<line x1="444.60" y1="157.30" x2="462.00" y2="157.30" stroke="#222" stroke-width="0.9"/>
<circle cx="445.20" cy="157.30" r="0.8" fill="#111"/>
<circle cx="461.40" cy="157.30" r="0.8" fill="#111"/>
<circle cx="453.30" cy="154.60" r="0.72" fill="#2a2a2a"/>
<text x="475.60" y="170.32" font-size="5.4" text-anchor="middle" fill="#111" stroke="#111" stroke-width="0.05">ns</text>
<line x1="472.00" y1="141.00" x2="489.70" y2="141.00" stroke="#222" stroke-width="0.9"/>
<circle cx="472.60" cy="141.00" r="0.8" fill="#111"/>
<circle cx="489.10" cy="141.00" r="0.8" fill="#111"/>
<circle cx="479.70" cy="137.90" r="0.72" fill="#2a2a2a"/>
<circle cx="481.90" cy="137.90" r="0.72" fill="#2a2a2a"/>
<text x="354.60" y="257.10" font-size="11.5" text-anchor="start" font-weight="bold" fill="#000" stroke="#000" stroke-width="0.15">H</text>
<line x1="388.20" y1="262.70" x2="388.20" y2="336.40" stroke="#111" stroke-width="1.15"/>
<line x1="385.20" y1="336.40" x2="388.20" y2="336.40" stroke="#111" stroke-width="1.15"/>
<text x="381.70" y="338.56" font-size="6" text-anchor="end" fill="#111" stroke="#111" stroke-width="0.15">0</text>
<line x1="385.20" y1="322.38" x2="388.20" y2="322.38" stroke="#111" stroke-width="1.15"/>
<text x="381.70" y="324.54" font-size="6" text-anchor="end" fill="#111" stroke="#111" stroke-width="0.15">500</text>
<line x1="385.20" y1="308.36" x2="388.20" y2="308.36" stroke="#111" stroke-width="1.15"/>
<text x="381.70" y="310.52" font-size="6" text-anchor="end" fill="#111" stroke="#111" stroke-width="0.15">1000</text>
<line x1="385.20" y1="294.34" x2="388.20" y2="294.34" stroke="#111" stroke-width="1.15"/>
<text x="381.70" y="296.50" font-size="6" text-anchor="end" fill="#111" stroke="#111" stroke-width="0.15">1500</text>
<line x1="385.20" y1="280.32" x2="388.20" y2="280.32" stroke="#111" stroke-width="1.15"/>
<text x="381.70" y="282.48" font-size="6" text-anchor="end" fill="#111" stroke="#111" stroke-width="0.15">2000</text>
<line x1="385.20" y1="266.30" x2="388.20" y2="266.30" stroke="#111" stroke-width="1.15"/>
<text x="381.70" y="268.46" font-size="6" text-anchor="end" fill="#111" stroke="#111" stroke-width="0.15">2500</text>
<line x1="388.20" y1="336.40" x2="493.30" y2="336.40" stroke="#111" stroke-width="1.15"/>
<text x="0" y="0" font-size="6.3" text-anchor="middle" fill="#111" stroke="#111" stroke-width="0.3" transform="translate(362.80 299.40) rotate(-90) scale(0.900 1)">MFI MitoID</text>
<rect x="397.50" y="266.40" width="5.20" height="5.30" fill="#2f4a7e"/>
<text x="406.10" y="271.10" font-size="5.5" text-anchor="start" fill="#111" stroke="#111" stroke-width="0.15">21% O<tspan font-size="0.62em" dx="0.12em" dy="0.42em">2</tspan></text>
<rect x="433.10" y="266.40" width="5.20" height="5.30" fill="#a6032e"/>
<text x="442.10" y="271.10" font-size="5.5" text-anchor="start" fill="#111" stroke="#111" stroke-width="0.15">1% O<tspan font-size="0.62em" dx="0.12em" dy="0.42em">2</tspan></text>
<rect x="391.95" y="321.15" width="5.80" height="15.25" fill="#2f4a7e" stroke="#1c376e" stroke-width="0.7"/>
<line x1="394.50" y1="313.40" x2="394.50" y2="321.80" stroke="#111" stroke-width="1.0"/>
<line x1="392.90" y1="313.40" x2="396.10" y2="313.40" stroke="#111" stroke-width="0.9"/>
<rect x="401.85" y="319.05" width="5.80" height="17.35" fill="#a6032e" stroke="#96001f" stroke-width="0.7"/>
<line x1="404.50" y1="313.80" x2="404.50" y2="319.70" stroke="#111" stroke-width="1.0"/>
<line x1="402.90" y1="313.80" x2="406.10" y2="313.80" stroke="#111" stroke-width="0.9"/>
<line x1="399.80" y1="336.40" x2="399.80" y2="339.00" stroke="#111" stroke-width="1.15"/>
<text x="399.80" y="347.30" font-size="6" text-anchor="middle" fill="#111" stroke="#111" stroke-width="0.15">Unt</text>
<rect x="419.05" y="321.65" width="5.80" height="14.75" fill="#2f4a7e" stroke="#1c376e" stroke-width="0.7"/>
<line x1="421.50" y1="316.40" x2="421.50" y2="322.30" stroke="#111" stroke-width="1.0"/>
<line x1="419.90" y1="316.40" x2="423.10" y2="316.40" stroke="#111" stroke-width="0.9"/>
<rect x="428.95" y="308.45" width="5.80" height="27.95" fill="#a6032e" stroke="#96001f" stroke-width="0.7"/>
<line x1="431.50" y1="299.70" x2="431.50" y2="309.10" stroke="#111" stroke-width="1.0"/>
<line x1="429.90" y1="299.70" x2="433.10" y2="299.70" stroke="#111" stroke-width="0.9"/>
<line x1="426.90" y1="336.40" x2="426.90" y2="339.00" stroke="#111" stroke-width="1.15"/>
<text x="426.90" y="347.30" font-size="6" text-anchor="middle" fill="#111" stroke="#111" stroke-width="0.15">5nM</text>
<rect x="446.35" y="294.75" width="5.80" height="41.65" fill="#2f4a7e" stroke="#1c376e" stroke-width="0.7"/>
<line x1="449.50" y1="288.50" x2="449.50" y2="295.40" stroke="#111" stroke-width="1.0"/>
<line x1="447.90" y1="288.50" x2="451.10" y2="288.50" stroke="#111" stroke-width="0.9"/>
<rect x="456.25" y="299.35" width="5.80" height="37.05" fill="#a6032e" stroke="#96001f" stroke-width="0.7"/>
<line x1="459.50" y1="293.80" x2="459.50" y2="300.00" stroke="#111" stroke-width="1.0"/>
<line x1="457.90" y1="293.80" x2="461.10" y2="293.80" stroke="#111" stroke-width="0.9"/>
<line x1="454.20" y1="336.40" x2="454.20" y2="339.00" stroke="#111" stroke-width="1.15"/>
<text x="454.20" y="347.30" font-size="6" text-anchor="middle" fill="#111" stroke="#111" stroke-width="0.15">25nM</text>
<rect x="473.45" y="291.55" width="5.80" height="44.85" fill="#2f4a7e" stroke="#1c376e" stroke-width="0.7"/>
<line x1="476.50" y1="289.10" x2="476.50" y2="292.20" stroke="#111" stroke-width="1.0"/>
<line x1="474.90" y1="289.10" x2="478.10" y2="289.10" stroke="#111" stroke-width="0.9"/>
<rect x="483.35" y="292.65" width="5.80" height="43.75" fill="#a6032e" stroke="#96001f" stroke-width="0.7"/>
<line x1="486.50" y1="285.30" x2="486.50" y2="293.30" stroke="#111" stroke-width="1.0"/>
<line x1="484.90" y1="285.30" x2="488.10" y2="285.30" stroke="#111" stroke-width="0.9"/>
<line x1="481.30" y1="336.40" x2="481.30" y2="339.00" stroke="#111" stroke-width="1.15"/>
<text x="481.30" y="347.30" font-size="6" text-anchor="middle" fill="#111" stroke="#111" stroke-width="0.15">50nM</text>
<text x="493.40" y="347.30" font-size="6" text-anchor="start" fill="#111" stroke="#111" stroke-width="0.15">Baf A1</text>
<line x1="390.90" y1="306.00" x2="409.00" y2="306.00" stroke="#222" stroke-width="0.9"/>
<circle cx="391.50" cy="306.00" r="0.8" fill="#111"/>
<circle cx="408.40" cy="306.00" r="0.8" fill="#111"/>
<text x="400.00" y="303.12" font-size="5.4" text-anchor="middle" fill="#111" stroke="#111" stroke-width="0.05">ns</text>
<text x="422.60" y="312.42" font-size="5.4" text-anchor="middle" fill="#111" stroke="#111" stroke-width="0.05">ns</text>
<text x="432.50" y="297.12" font-size="5.4" text-anchor="middle" fill="#111" stroke="#111" stroke-width="0.05">ns</text>
<line x1="417.50" y1="293.40" x2="436.40" y2="293.40" stroke="#222" stroke-width="0.9"/>
<circle cx="418.10" cy="293.40" r="0.8" fill="#111"/>
<circle cx="435.80" cy="293.40" r="0.8" fill="#111"/>
<text x="427.00" y="291.02" font-size="5.4" text-anchor="middle" fill="#111" stroke="#111" stroke-width="0.05">ns</text>
<circle cx="448.80" cy="286.10" r="0.72" fill="#2a2a2a"/>
<circle cx="451.00" cy="286.10" r="0.72" fill="#2a2a2a"/>
<circle cx="458.80" cy="292.80" r="0.72" fill="#2a2a2a"/>
<circle cx="461.00" cy="292.80" r="0.72" fill="#2a2a2a"/>
<line x1="445.30" y1="280.50" x2="463.80" y2="280.50" stroke="#222" stroke-width="0.9"/>
<circle cx="445.90" cy="280.50" r="0.8" fill="#111"/>
<circle cx="463.20" cy="280.50" r="0.8" fill="#111"/>
<text x="454.60" y="279.22" font-size="5.4" text-anchor="middle" fill="#111" stroke="#111" stroke-width="0.05">ns</text>
<circle cx="476.20" cy="286.10" r="0.72" fill="#2a2a2a"/>
<circle cx="478.40" cy="286.10" r="0.72" fill="#2a2a2a"/>
<circle cx="486.20" cy="283.20" r="0.72" fill="#2a2a2a"/>
<circle cx="488.40" cy="283.20" r="0.72" fill="#2a2a2a"/>
<line x1="472.30" y1="280.20" x2="490.80" y2="280.20" stroke="#222" stroke-width="0.9"/>
<circle cx="472.90" cy="280.20" r="0.8" fill="#111"/>
<circle cx="490.20" cy="280.20" r="0.8" fill="#111"/>
<text x="481.60" y="278.62" font-size="5.4" text-anchor="middle" fill="#111" stroke="#111" stroke-width="0.05">ns</text>
<text x="6.90" y="390.20" font-size="12" text-anchor="start" font-weight="bold" fill="#000" stroke="#000" stroke-width="0.15">I</text>
<text x="0" y="0" font-size="6.6" text-anchor="start" fill="#111" stroke="#111" stroke-width="0.1" transform="translate(31.80 416.30) rotate(-45)">DMSO</text>
<text x="0" y="0" font-size="6.6" text-anchor="start" fill="#111" stroke="#111" stroke-width="0.1" transform="translate(57.00 416.30) rotate(-45)">CCCP</text>
<text x="0" y="0" font-size="6.6" text-anchor="start" fill="#111" stroke="#111" stroke-width="0.1" transform="translate(83.30 415.70) rotate(-45)">CQ</text>
<text x="0" y="0" font-size="6.6" text-anchor="start" fill="#111" stroke="#111" stroke-width="0.1" transform="translate(104.50 416.30) rotate(-45)">Baf A1</text>
<rect x="13.5" y="423.3" width="110.6" height="17.8" fill="#efefef" stroke="#222" stroke-width="1.1"/>
<rect x="21.00" y="426.00" width="13.00" height="11.00" rx="2.5" fill="#dedede" opacity="0.6" filter="url(#bl2)"/>
<rect x="76.00" y="426.00" width="14.00" height="11.00" rx="2.5" fill="#dedede" opacity="0.6" filter="url(#bl2)"/>
<rect x="47.50" y="425.00" width="18.50" height="12.60" rx="2.5" fill="#8c8c8c" opacity="0.95" filter="url(#bl2)"/>
<rect x="49.50" y="425.00" width="14.50" height="5.50" rx="2.5" fill="#7a7a7a" opacity="0.7" filter="url(#bl2)"/>
<rect x="98.50" y="425.00" width="19.50" height="10.40" rx="2.5" fill="#acacac" opacity="0.95" filter="url(#bl2)"/>
<rect x="108.50" y="425.60" width="9.00" height="5.00" rx="2" fill="#626262" opacity="0.85" filter="url(#bl2)"/>
<circle cx="90.3" cy="438.3" r="0.5" fill="#333"/>
<text x="27.60" y="453.60" font-size="6" text-anchor="middle" fill="#111" stroke="#111" stroke-width="0.15">1</text>
<text x="54.40" y="453.60" font-size="6" text-anchor="middle" fill="#111" stroke="#111" stroke-width="0.15">5.3</text>
<text x="82.90" y="453.60" font-size="6" text-anchor="middle" fill="#111" stroke="#111" stroke-width="0.15">1.2</text>
<text x="108.00" y="453.60" font-size="6" text-anchor="middle" fill="#111" stroke="#111" stroke-width="0.15">1.8</text>
<rect x="13.5" y="457.0" width="110.6" height="19.8" fill="#efefef" stroke="#222" stroke-width="1.1"/>
<polygon points="18.60,469.80 37.20,468.90 38.20,470.40 37.20,471.90 18.60,471.80 17.60,470.80" fill="#5a5a5a" opacity="1.0" filter="url(#bl)"/>
<polygon points="47.40,468.20 64.00,466.90 65.00,468.60 64.00,470.30 47.40,470.60 46.40,469.40" fill="#333" opacity="1.0" filter="url(#bl)"/>
<polygon points="71.80,467.40 89.20,465.30 90.20,466.90 89.20,468.50 71.80,469.80 70.80,468.60" fill="#2e2e2e" opacity="1.0" filter="url(#bl)"/>
<polygon points="97.80,464.90 116.20,461.60 117.20,463.60 116.20,465.60 97.80,467.90 96.80,466.40" fill="#121212" opacity="1.0" filter="url(#bl)"/>
<text x="133.40" y="436.90" font-size="6.2" text-anchor="start" fill="#111" stroke="#111" stroke-width="0.15">PINK1</text>
<text x="0" y="0" font-size="6.1" text-anchor="start" fill="#111" stroke="#111" stroke-width="0.15" transform="translate(133.40 452.60) scale(0.955 1)">Relative PINK1</text>
<text x="133.40" y="469.90" font-size="6.2" text-anchor="start" fill="#111" stroke="#111" stroke-width="0.15">actin</text>
<text x="0" y="0" font-size="12" text-anchor="start" font-weight="bold" fill="#000" transform="translate(190.60 389.40) scale(0.820 1)">J</text>
<line x1="217.60" y1="396.10" x2="217.60" y2="470.80" stroke="#111" stroke-width="1.15"/>
<line x1="214.60" y1="470.80" x2="217.60" y2="470.80" stroke="#111" stroke-width="1.15"/>
<text x="211.60" y="472.96" font-size="6" text-anchor="end" fill="#111" stroke="#111" stroke-width="0.15">0</text>
<line x1="214.60" y1="456.40" x2="217.60" y2="456.40" stroke="#111" stroke-width="1.15"/>
<text x="211.60" y="458.56" font-size="6" text-anchor="end" fill="#111" stroke="#111" stroke-width="0.15">20</text>
<line x1="214.60" y1="442.00" x2="217.60" y2="442.00" stroke="#111" stroke-width="1.15"/>
<text x="211.60" y="444.16" font-size="6" text-anchor="end" fill="#111" stroke="#111" stroke-width="0.15">40</text>
<line x1="214.60" y1="427.60" x2="217.60" y2="427.60" stroke="#111" stroke-width="1.15"/>
<text x="211.60" y="429.76" font-size="6" text-anchor="end" fill="#111" stroke="#111" stroke-width="0.15">60</text>
<line x1="214.60" y1="413.20" x2="217.60" y2="413.20" stroke="#111" stroke-width="1.15"/>
<text x="211.60" y="415.36" font-size="6" text-anchor="end" fill="#111" stroke="#111" stroke-width="0.15">80</text>
<line x1="214.60" y1="398.80" x2="217.60" y2="398.80" stroke="#111" stroke-width="1.15"/>
<text x="211.60" y="400.96" font-size="6" text-anchor="end" fill="#111" stroke="#111" stroke-width="0.15">100</text>
<line x1="217.60" y1="470.80" x2="324.50" y2="470.80" stroke="#111" stroke-width="1.15"/>
<text x="0" y="0" font-size="6.8" text-anchor="middle" fill="#111" stroke="#111" stroke-width="0.3" transform="translate(194.90 433.50) rotate(-90) scale(0.810 1)">% annexin V/PI positive</text>
<rect x="222.30" y="468.45" width="7.20" height="2.35" fill="#2f4a7e" stroke="#1c376e" stroke-width="0.7"/>
<line x1="225.50" y1="467.20" x2="225.50" y2="469.10" stroke="#111" stroke-width="1.0"/>
<line x1="223.90" y1="467.20" x2="227.10" y2="467.20" stroke="#111" stroke-width="0.9"/>
<line x1="225.90" y1="470.80" x2="225.90" y2="473.50" stroke="#111" stroke-width="1.15"/>
<text x="0" y="0" font-size="6.3" text-anchor="end" fill="#111" stroke="#111" stroke-width="0.08" transform="translate(228.60 480.90) rotate(-45)">Unt</text>
<rect x="235.50" y="450.35" width="7.20" height="20.45" fill="#2f4a7e" stroke="#1c376e" stroke-width="0.7"/>
<line x1="239.50" y1="444.70" x2="239.50" y2="451.00" stroke="#111" stroke-width="1.0"/>
<line x1="237.90" y1="444.70" x2="241.10" y2="444.70" stroke="#111" stroke-width="0.9"/>
<line x1="239.10" y1="470.80" x2="239.10" y2="473.50" stroke="#111" stroke-width="1.15"/>
<text x="0" y="0" font-size="6.3" text-anchor="end" fill="#111" stroke="#111" stroke-width="0.08" transform="translate(241.80 480.90) rotate(-45)">CCCP</text>
<rect x="248.60" y="462.35" width="7.20" height="8.45" fill="#2f4a7e" stroke="#1c376e" stroke-width="0.7"/>
<line x1="252.50" y1="458.30" x2="252.50" y2="463.00" stroke="#111" stroke-width="1.0"/>
<line x1="250.90" y1="458.30" x2="254.10" y2="458.30" stroke="#111" stroke-width="0.9"/>
<line x1="252.20" y1="470.80" x2="252.20" y2="473.50" stroke="#111" stroke-width="1.15"/>
<text x="0" y="0" font-size="6.3" text-anchor="end" fill="#111" stroke="#111" stroke-width="0.08" transform="translate(254.90 480.90) rotate(-45)">CQ</text>
<rect x="261.60" y="420.45" width="7.20" height="50.35" fill="#2f4a7e" stroke="#1c376e" stroke-width="0.7"/>
<line x1="265.50" y1="410.40" x2="265.50" y2="421.10" stroke="#111" stroke-width="1.0"/>
<line x1="263.90" y1="410.40" x2="267.10" y2="410.40" stroke="#111" stroke-width="0.9"/>
<line x1="265.20" y1="470.80" x2="265.20" y2="473.50" stroke="#111" stroke-width="1.15"/>
<text x="0" y="0" font-size="6.3" text-anchor="end" fill="#111" stroke="#111" stroke-width="0.08" transform="translate(267.90 480.90) rotate(-45)">Combo</text>
<rect x="274.20" y="439.15" width="7.20" height="31.65" fill="#a6032e" stroke="#96001f" stroke-width="0.7"/>
<line x1="277.50" y1="434.10" x2="277.50" y2="439.80" stroke="#111" stroke-width="1.0"/>
<line x1="275.90" y1="434.10" x2="279.10" y2="434.10" stroke="#111" stroke-width="0.9"/>
<line x1="277.80" y1="470.80" x2="277.80" y2="473.50" stroke="#111" stroke-width="1.15"/>
<text x="0" y="0" font-size="6.3" text-anchor="end" fill="#111" stroke="#111" stroke-width="0.08" transform="translate(280.50 480.90) rotate(-45)">Unt</text>
<rect x="287.10" y="453.95" width="7.20" height="16.85" fill="#a6032e" stroke="#96001f" stroke-width="0.7"/>
<line x1="290.50" y1="450.00" x2="290.50" y2="454.60" stroke="#111" stroke-width="1.0"/>
<line x1="288.90" y1="450.00" x2="292.10" y2="450.00" stroke="#111" stroke-width="0.9"/>
<line x1="290.70" y1="470.80" x2="290.70" y2="473.50" stroke="#111" stroke-width="1.15"/>
<text x="0" y="0" font-size="6.3" text-anchor="end" fill="#111" stroke="#111" stroke-width="0.08" transform="translate(293.40 480.90) rotate(-45)">CCCP</text>
<rect x="299.90" y="414.65" width="7.20" height="56.15" fill="#a6032e" stroke="#96001f" stroke-width="0.7"/>
<line x1="303.50" y1="406.20" x2="303.50" y2="415.30" stroke="#111" stroke-width="1.0"/>
<line x1="301.90" y1="406.20" x2="305.10" y2="406.20" stroke="#111" stroke-width="0.9"/>
<line x1="303.50" y1="470.80" x2="303.50" y2="473.50" stroke="#111" stroke-width="1.15"/>
<text x="0" y="0" font-size="6.3" text-anchor="end" fill="#111" stroke="#111" stroke-width="0.08" transform="translate(306.20 480.90) rotate(-45)">CQ</text>
<rect x="313.00" y="421.05" width="7.20" height="49.75" fill="#a6032e" stroke="#96001f" stroke-width="0.7"/>
<line x1="316.50" y1="414.30" x2="316.50" y2="421.70" stroke="#111" stroke-width="1.0"/>
<line x1="314.90" y1="414.30" x2="318.10" y2="414.30" stroke="#111" stroke-width="0.9"/>
<line x1="316.60" y1="470.80" x2="316.60" y2="473.50" stroke="#111" stroke-width="1.15"/>
<text x="0" y="0" font-size="6.3" text-anchor="end" fill="#111" stroke="#111" stroke-width="0.08" transform="translate(319.30 480.90) rotate(-45)">Combo</text>
<line x1="251.90" y1="406.20" x2="265.90" y2="406.20" stroke="#222" stroke-width="0.9"/>
<circle cx="252.50" cy="406.20" r="0.8" fill="#111"/>
<circle cx="265.30" cy="406.20" r="0.8" fill="#111"/>
<circle cx="257.80" cy="403.20" r="0.72" fill="#2a2a2a"/>
<circle cx="260.00" cy="403.20" r="0.72" fill="#2a2a2a"/>
<line x1="303.50" y1="403.40" x2="317.50" y2="403.40" stroke="#222" stroke-width="0.9"/>
<circle cx="304.10" cy="403.40" r="0.8" fill="#111"/>
<circle cx="316.90" cy="403.40" r="0.8" fill="#111"/>
<text x="310.50" y="401.72" font-size="5.4" text-anchor="middle" fill="#111" stroke="#111" stroke-width="0.05">ns</text>
<line x1="222.60" y1="498.50" x2="270.90" y2="498.50" stroke="#111" stroke-width="1.0"/>
<line x1="273.70" y1="498.50" x2="321.60" y2="498.50" stroke="#111" stroke-width="1.0"/>
<text x="247.50" y="507.10" font-size="6" text-anchor="middle" fill="#111" stroke="#111" stroke-width="0.15">21% O<tspan font-size="0.62em" dx="0.12em" dy="0.42em">2</tspan></text>
<text x="297.70" y="507.10" font-size="6" text-anchor="middle" fill="#111" stroke="#111" stroke-width="0.15">1% O<tspan font-size="0.62em" dx="0.12em" dy="0.42em">2</tspan></text>
<rect x="0" y="0" width="520" height="1" fill="#000"/>
<rect x="0" y="0" width="1" height="518" fill="#000"/>
<rect x="518" y="0" width="1" height="518" fill="#d8d8d8"/>
<rect x="519" y="0" width="1" height="518" fill="#000"/>
<rect x="0" y="516" width="519" height="1" fill="#f4f4f4"/>
<rect x="0" y="517" width="520" height="1" fill="#000"/>
</svg>
</body></html>
